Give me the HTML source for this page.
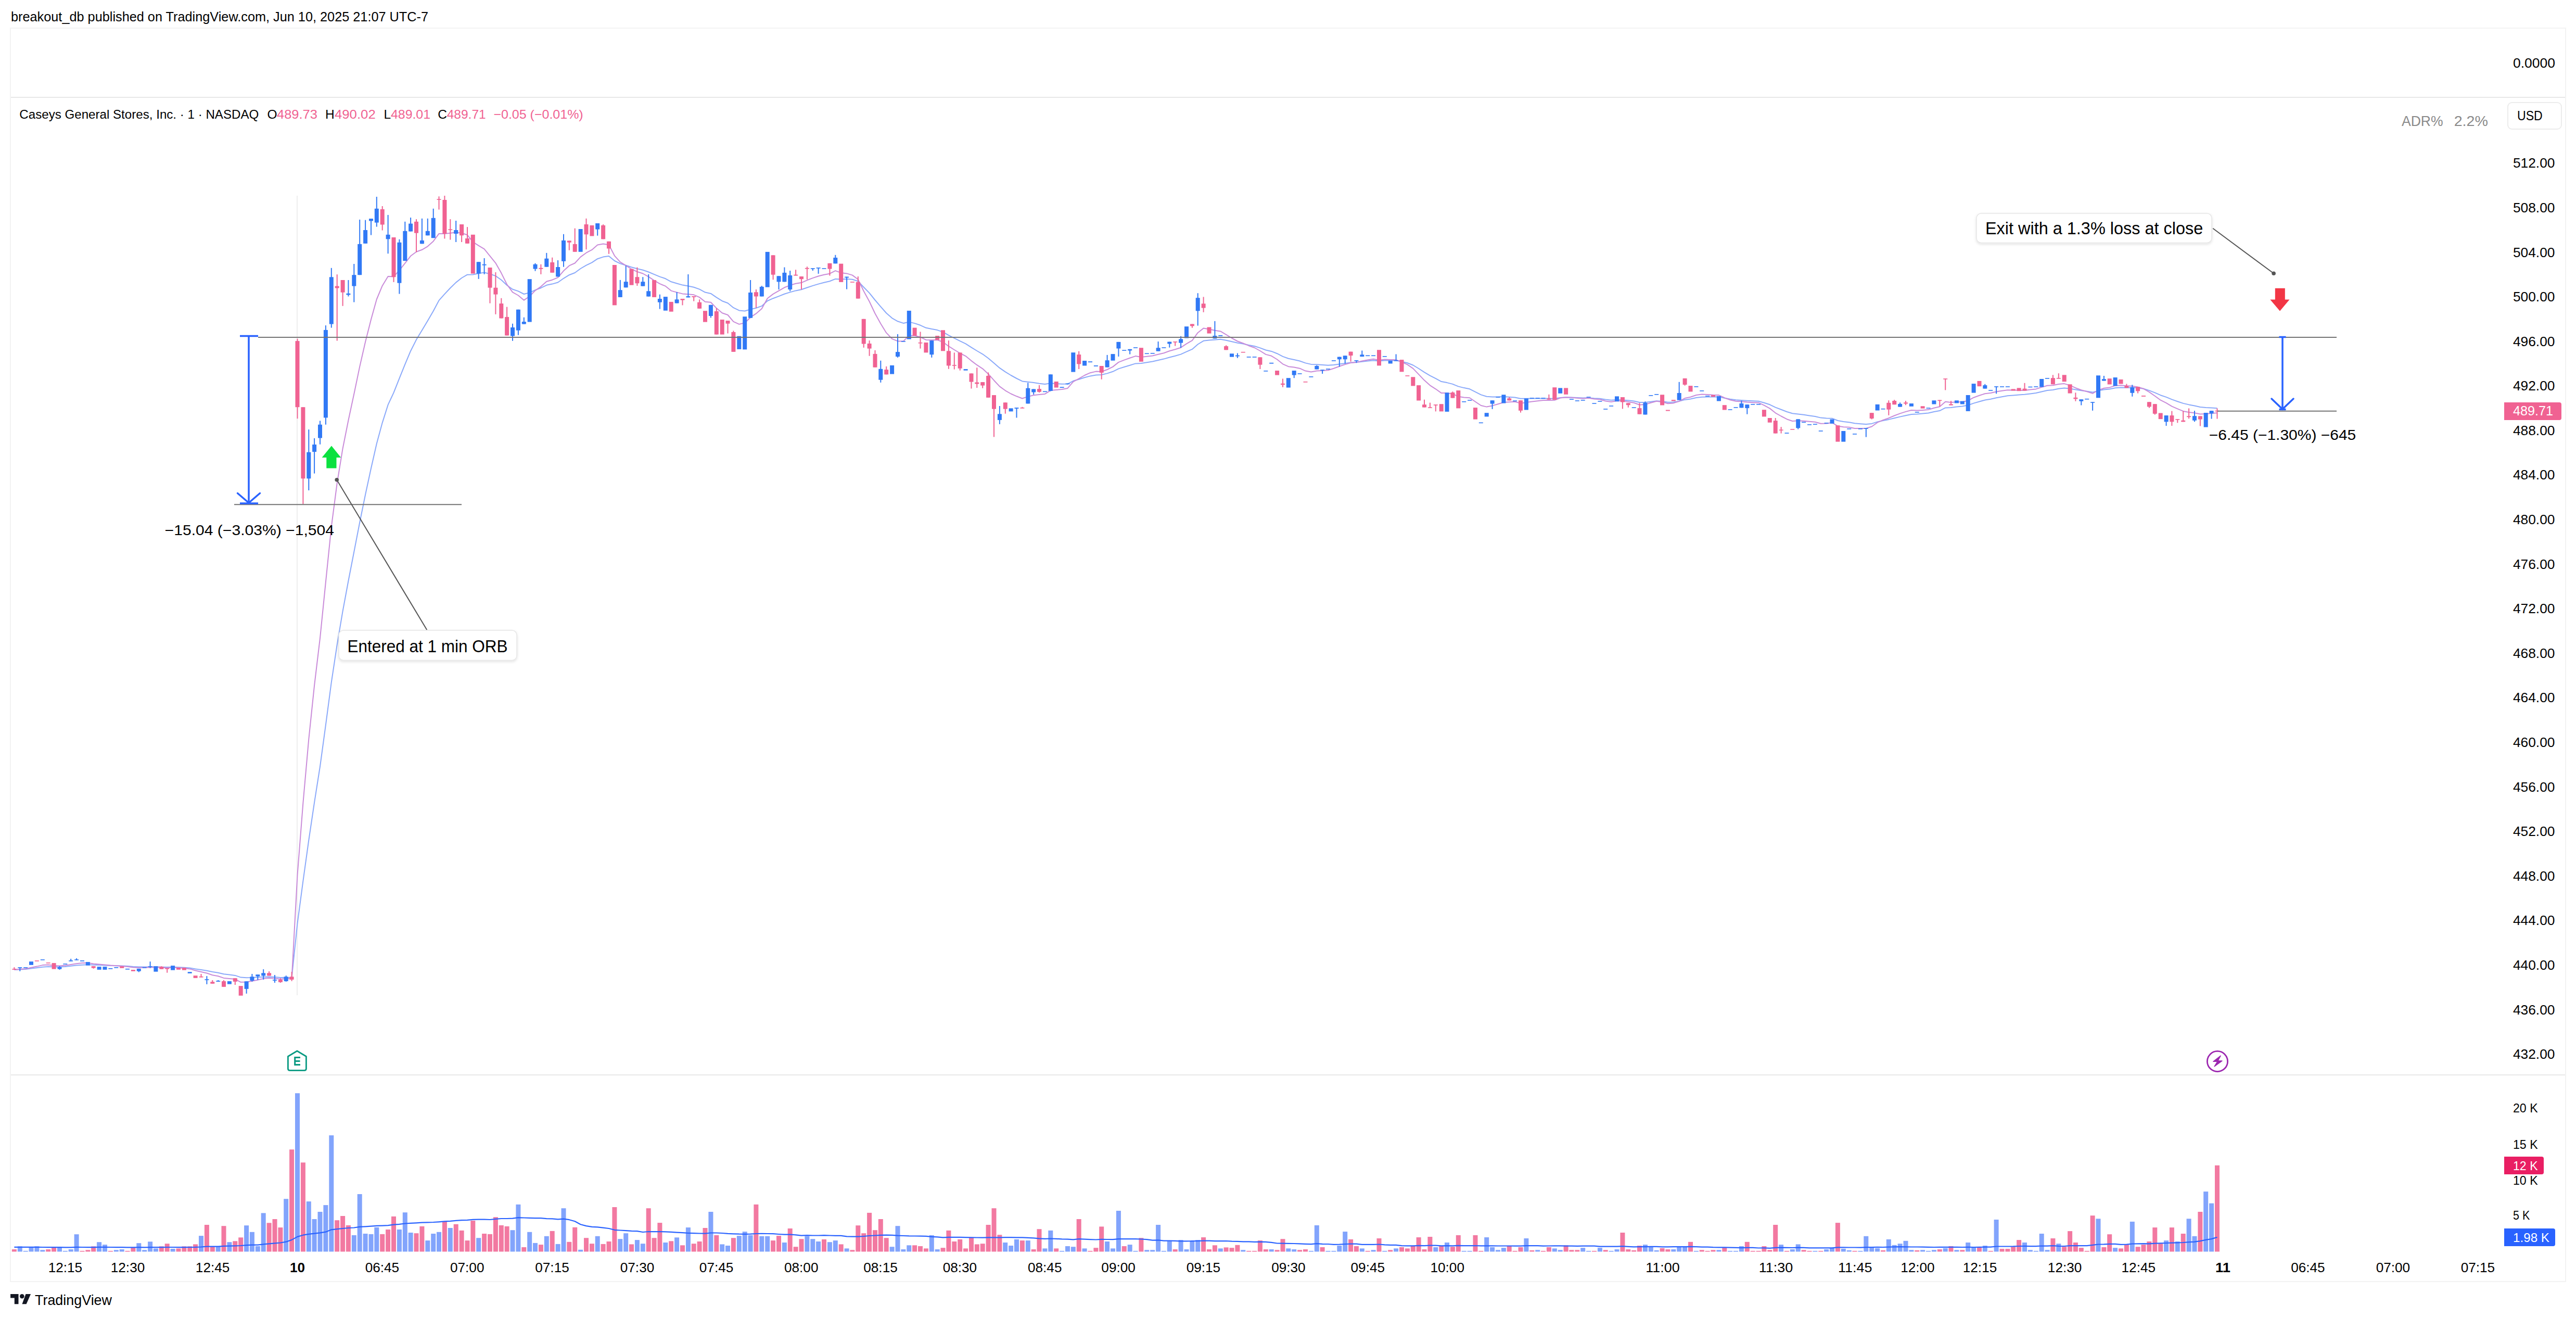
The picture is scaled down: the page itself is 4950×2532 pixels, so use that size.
<!DOCTYPE html>
<html><head><meta charset="utf-8"><style>html,body{margin:0;padding:0;background:#fff;overflow:hidden}svg{display:block}</style></head>
<body><svg width="4950" height="2532" viewBox="0 0 4950 2532" font-family='"Liberation Sans", sans-serif'>
<rect width="4950" height="2532" fill="#ffffff"/>
<text x="21.0" y="40.8" font-size="25.5" fill="#000000" text-anchor="start" font-weight="normal" textLength="802.0" lengthAdjust="spacingAndGlyphs">breakout_db published on TradingView.com, Jun 10, 2025 21:07 UTC-7</text>
<rect x="20" y="54" width="4910" height="2408" fill="none" stroke="#f3f3f3" stroke-width="2"/>
<line x1="21" y1="187" x2="4929" y2="187" stroke="#e8e8e8" stroke-width="2"/>
<line x1="21" y1="2065" x2="4929" y2="2065" stroke="#e8e8e8" stroke-width="2"/>
<line x1="571" y1="376" x2="571" y2="1912" stroke="#eeeeee" stroke-width="2"/>
<text x="4829.0" y="130.0" font-size="25.5" fill="#000000" text-anchor="start" font-weight="normal" textLength="81.0" lengthAdjust="spacingAndGlyphs">0.0000</text>
<text x="4829.0" y="2034.1" font-size="25.5" fill="#000000" text-anchor="start" font-weight="normal" textLength="80.4" lengthAdjust="spacingAndGlyphs">432.00</text>
<text x="4829.0" y="1948.5" font-size="25.5" fill="#000000" text-anchor="start" font-weight="normal" textLength="80.4" lengthAdjust="spacingAndGlyphs">436.00</text>
<text x="4829.0" y="1862.9" font-size="25.5" fill="#000000" text-anchor="start" font-weight="normal" textLength="80.4" lengthAdjust="spacingAndGlyphs">440.00</text>
<text x="4829.0" y="1777.3" font-size="25.5" fill="#000000" text-anchor="start" font-weight="normal" textLength="80.4" lengthAdjust="spacingAndGlyphs">444.00</text>
<text x="4829.0" y="1691.7" font-size="25.5" fill="#000000" text-anchor="start" font-weight="normal" textLength="80.4" lengthAdjust="spacingAndGlyphs">448.00</text>
<text x="4829.0" y="1606.1" font-size="25.5" fill="#000000" text-anchor="start" font-weight="normal" textLength="80.4" lengthAdjust="spacingAndGlyphs">452.00</text>
<text x="4829.0" y="1520.5" font-size="25.5" fill="#000000" text-anchor="start" font-weight="normal" textLength="80.4" lengthAdjust="spacingAndGlyphs">456.00</text>
<text x="4829.0" y="1434.9" font-size="25.5" fill="#000000" text-anchor="start" font-weight="normal" textLength="80.4" lengthAdjust="spacingAndGlyphs">460.00</text>
<text x="4829.0" y="1349.4" font-size="25.5" fill="#000000" text-anchor="start" font-weight="normal" textLength="80.4" lengthAdjust="spacingAndGlyphs">464.00</text>
<text x="4829.0" y="1263.8" font-size="25.5" fill="#000000" text-anchor="start" font-weight="normal" textLength="80.4" lengthAdjust="spacingAndGlyphs">468.00</text>
<text x="4829.0" y="1178.2" font-size="25.5" fill="#000000" text-anchor="start" font-weight="normal" textLength="80.4" lengthAdjust="spacingAndGlyphs">472.00</text>
<text x="4829.0" y="1092.6" font-size="25.5" fill="#000000" text-anchor="start" font-weight="normal" textLength="80.4" lengthAdjust="spacingAndGlyphs">476.00</text>
<text x="4829.0" y="1007.0" font-size="25.5" fill="#000000" text-anchor="start" font-weight="normal" textLength="80.4" lengthAdjust="spacingAndGlyphs">480.00</text>
<text x="4829.0" y="921.4" font-size="25.5" fill="#000000" text-anchor="start" font-weight="normal" textLength="80.4" lengthAdjust="spacingAndGlyphs">484.00</text>
<text x="4829.0" y="835.8" font-size="25.5" fill="#000000" text-anchor="start" font-weight="normal" textLength="80.4" lengthAdjust="spacingAndGlyphs">488.00</text>
<text x="4829.0" y="750.2" font-size="25.5" fill="#000000" text-anchor="start" font-weight="normal" textLength="80.4" lengthAdjust="spacingAndGlyphs">492.00</text>
<text x="4829.0" y="664.7" font-size="25.5" fill="#000000" text-anchor="start" font-weight="normal" textLength="80.4" lengthAdjust="spacingAndGlyphs">496.00</text>
<text x="4829.0" y="579.1" font-size="25.5" fill="#000000" text-anchor="start" font-weight="normal" textLength="80.4" lengthAdjust="spacingAndGlyphs">500.00</text>
<text x="4829.0" y="493.5" font-size="25.5" fill="#000000" text-anchor="start" font-weight="normal" textLength="80.4" lengthAdjust="spacingAndGlyphs">504.00</text>
<text x="4829.0" y="407.9" font-size="25.5" fill="#000000" text-anchor="start" font-weight="normal" textLength="80.4" lengthAdjust="spacingAndGlyphs">508.00</text>
<text x="4829.0" y="322.3" font-size="25.5" fill="#000000" text-anchor="start" font-weight="normal" textLength="80.4" lengthAdjust="spacingAndGlyphs">512.00</text>
<rect x="4819" y="197" width="103" height="51" rx="8" fill="#fff" stroke="#ececec" stroke-width="2"/>
<text x="4837.0" y="230.7" font-size="25.5" fill="#000000" text-anchor="start" font-weight="normal" textLength="48.7" lengthAdjust="spacingAndGlyphs">USD</text>
<text x="4615.0" y="242.2" font-size="28" fill="#8a8a8a" text-anchor="start" font-weight="normal" textLength="79.5" lengthAdjust="spacingAndGlyphs">ADR%</text>
<text x="4715.7" y="242.2" font-size="28" fill="#8a8a8a" text-anchor="start" font-weight="normal" textLength="65.2" lengthAdjust="spacingAndGlyphs">2.2%</text>
<text x="37.3" y="227.8" font-size="24.5" fill="#000000" text-anchor="start" font-weight="normal" textLength="460.0" lengthAdjust="spacingAndGlyphs">Caseys General Stores, Inc. · 1 · NASDAQ</text>
<text x="513.6" y="227.8" font-size="24.5" fill="#000000" text-anchor="start" font-weight="normal">O</text>
<text x="532.0" y="227.8" font-size="24.5" fill="#f06292" text-anchor="start" font-weight="normal" textLength="77.8" lengthAdjust="spacingAndGlyphs">489.73</text>
<text x="625.0" y="227.8" font-size="24.5" fill="#000000" text-anchor="start" font-weight="normal">H</text>
<text x="643.0" y="227.8" font-size="24.5" fill="#f06292" text-anchor="start" font-weight="normal" textLength="78.7" lengthAdjust="spacingAndGlyphs">490.02</text>
<text x="737.5" y="227.8" font-size="24.5" fill="#000000" text-anchor="start" font-weight="normal">L</text>
<text x="751.0" y="227.8" font-size="24.5" fill="#f06292" text-anchor="start" font-weight="normal" textLength="76.0" lengthAdjust="spacingAndGlyphs">489.01</text>
<text x="841.3" y="227.8" font-size="24.5" fill="#000000" text-anchor="start" font-weight="normal">C</text>
<text x="858.7" y="227.8" font-size="24.5" fill="#f06292" text-anchor="start" font-weight="normal" textLength="75.0" lengthAdjust="spacingAndGlyphs">489.71</text>
<text x="948.4" y="227.8" font-size="24.5" fill="#f06292" text-anchor="start" font-weight="normal" textLength="172.3" lengthAdjust="spacingAndGlyphs">−0.05 (−0.01%)</text>
<polyline points="27.4,1862.9 38.3,1862.4 49.2,1862.0 60.0,1860.6 70.9,1859.3 81.8,1857.8 92.7,1857.1 103.6,1857.5 114.5,1857.6 125.3,1857.0 136.2,1855.8 147.1,1854.6 158.0,1853.7 168.9,1853.2 179.7,1853.8 190.6,1854.1 201.5,1854.4 212.4,1854.9 223.3,1855.2 234.2,1855.6 245.0,1856.1 255.9,1857.1 266.8,1857.4 277.7,1857.5 288.6,1857.4 299.4,1857.3 310.3,1857.7 321.2,1858.1 332.1,1857.8 343.0,1858.3 353.9,1858.8 364.7,1859.6 375.6,1861.4 386.5,1863.0 397.4,1864.7 408.3,1867.1 419.2,1868.7 430.0,1871.3 440.9,1872.6 451.8,1873.9 462.7,1877.6 473.6,1878.3 484.4,1878.1 495.3,1877.5 506.2,1876.8 517.1,1876.5 528.0,1877.1 538.9,1878.0 549.7,1877.8 560.6,1878.2 571.5,1773.8 582.4,1692.4 593.3,1614.0 604.1,1541.6 615.0,1472.5 625.9,1392.6 636.8,1310.7 647.7,1238.6 658.6,1174.1 669.4,1116.0 680.3,1060.0 691.2,1003.7 702.1,950.2 713.0,899.7 723.8,852.2 734.7,812.1 745.6,777.7 756.5,754.4 767.4,726.9 778.3,699.9 789.1,674.2 800.0,652.6 810.9,634.4 821.8,616.3 832.7,597.5 843.5,577.1 854.4,564.9 865.3,553.2 876.2,542.6 887.1,534.0 898.0,527.7 908.8,527.5 919.7,525.2 930.6,523.5 941.5,526.3 952.4,530.1 963.3,537.8 974.1,548.0 985.0,555.7 995.9,559.4 1006.8,565.0 1017.7,562.2 1028.5,557.1 1039.4,553.2 1050.3,547.8 1061.2,545.6 1072.1,542.5 1083.0,534.8 1093.8,528.2 1104.7,524.0 1115.6,516.0 1126.5,509.7 1137.4,504.4 1148.2,497.2 1159.1,493.6 1170.0,492.1 1180.9,501.0 1191.8,506.4 1202.7,509.7 1213.5,513.3 1224.4,516.3 1235.3,518.7 1246.2,522.5 1257.1,527.1 1267.9,531.6 1278.8,535.3 1289.7,541.3 1300.6,544.5 1311.5,547.6 1322.4,549.6 1333.2,551.7 1344.1,555.6 1355.0,561.6 1365.9,563.9 1376.8,571.4 1387.7,578.2 1398.5,582.3 1409.4,591.2 1420.3,596.4 1431.2,597.5 1442.1,594.2 1452.9,591.8 1463.8,587.9 1474.7,578.0 1485.6,573.2 1496.5,569.1 1507.4,564.8 1518.2,561.4 1529.1,558.4 1540.0,556.3 1550.9,552.5 1561.8,548.9 1572.6,545.6 1583.5,542.7 1594.4,540.2 1605.3,535.9 1616.2,536.5 1627.1,536.0 1637.9,536.7 1648.8,540.2 1659.7,551.7 1670.6,562.9 1681.5,576.5 1692.3,589.1 1703.2,601.5 1714.1,611.1 1725.0,617.3 1735.9,620.9 1746.8,618.6 1757.6,621.1 1768.5,624.8 1779.4,629.8 1790.3,632.1 1801.2,634.1 1812.0,637.9 1822.9,644.1 1833.8,649.6 1844.7,655.2 1855.6,660.3 1866.5,667.3 1877.3,674.0 1888.2,680.3 1899.1,688.3 1910.0,697.6 1920.9,706.9 1931.8,714.4 1942.6,721.0 1953.5,727.0 1964.4,732.4 1975.3,733.7 1986.2,735.0 1997.0,736.7 2007.9,738.1 2018.8,736.3 2029.7,737.1 2040.6,737.7 2051.5,737.6 2062.3,731.8 2073.2,728.8 2084.1,725.3 2095.0,722.4 2105.9,720.4 2116.7,720.0 2127.6,717.4 2138.5,713.8 2149.4,708.4 2160.3,705.0 2171.2,701.7 2182.0,698.4 2192.9,698.1 2203.8,696.2 2214.7,694.5 2225.6,692.0 2236.4,689.6 2247.3,686.5 2258.2,683.7 2269.1,680.6 2280.0,675.6 2290.9,670.9 2301.7,661.5 2312.6,654.8 2323.5,653.5 2334.4,652.7 2345.3,651.8 2356.1,653.8 2367.0,656.2 2377.9,658.7 2388.8,660.5 2399.7,662.9 2410.6,665.0 2421.4,668.4 2432.3,672.5 2443.2,674.9 2454.1,679.2 2465.0,684.9 2475.8,688.8 2486.7,691.1 2497.6,693.5 2508.5,697.4 2519.4,699.9 2530.3,700.2 2541.1,701.1 2552.0,701.8 2562.9,700.9 2573.8,699.4 2584.7,697.9 2595.6,696.5 2606.4,696.1 2617.3,694.7 2628.2,693.5 2639.1,692.5 2650.0,693.4 2660.8,692.5 2671.7,692.6 2682.6,692.5 2693.5,694.6 2704.4,697.3 2715.3,701.5 2726.1,708.0 2737.0,715.1 2747.9,721.6 2758.8,727.1 2769.7,733.1 2780.5,735.1 2791.4,737.9 2802.3,742.4 2813.2,745.1 2824.1,747.3 2835.0,752.8 2845.8,758.4 2856.7,761.7 2867.6,762.4 2878.5,762.4 2889.4,762.0 2900.2,762.7 2911.1,763.4 2922.0,765.8 2932.9,765.7 2943.8,765.6 2954.7,765.5 2965.5,765.4 2976.4,765.6 2987.3,765.8 2998.2,763.9 3009.1,763.3 3019.9,763.6 3030.8,764.1 3041.7,764.5 3052.6,764.3 3063.5,765.2 3074.4,765.7 3085.2,767.6 3096.1,768.7 3107.0,768.0 3117.9,768.4 3128.8,769.3 3139.7,770.6 3150.5,773.0 3161.4,773.0 3172.3,771.7 3183.2,770.3 3194.1,771.1 3204.9,772.8 3215.8,772.6 3226.7,770.9 3237.6,767.9 3248.5,766.4 3259.4,764.1 3270.2,762.8 3281.1,762.5 3292.0,762.5 3302.9,762.3 3313.8,764.7 3324.6,766.8 3335.5,768.2 3346.4,768.9 3357.3,769.7 3368.2,770.3 3379.1,770.8 3389.9,773.7 3400.8,777.3 3411.7,782.6 3422.6,786.8 3433.5,791.0 3444.3,794.3 3455.2,795.4 3466.1,796.8 3477.0,798.5 3487.9,800.0 3498.8,802.6 3509.6,803.5 3520.5,803.7 3531.4,808.0 3542.3,809.9 3553.2,811.2 3564.0,813.2 3574.9,814.2 3585.8,815.0 3596.7,813.9 3607.6,810.4 3618.5,808.0 3629.3,805.9 3640.2,803.2 3651.1,800.6 3662.0,798.2 3672.9,796.0 3683.8,795.5 3694.6,794.5 3705.5,793.4 3716.4,791.1 3727.3,789.1 3738.2,783.4 3749.0,782.9 3759.9,781.6 3770.8,780.6 3781.7,778.5 3792.6,774.6 3803.5,771.5 3814.3,768.5 3825.2,766.7 3836.1,764.3 3847.0,762.2 3857.9,760.3 3868.7,759.4 3879.6,758.6 3890.5,757.8 3901.4,756.4 3912.3,755.0 3923.2,752.5 3934.0,750.0 3944.9,748.9 3955.8,746.8 3966.7,745.5 3977.6,746.5 3988.4,748.4 3999.3,750.2 4010.2,751.7 4021.1,753.6 4032.0,750.6 4042.9,748.4 4053.7,747.5 4064.6,745.3 4075.5,744.6 4086.4,744.7 4097.3,744.6 4108.1,745.2 4119.0,746.8 4129.9,750.1 4140.8,754.4 4151.7,759.2 4162.6,762.9 4173.4,767.4 4184.3,771.2 4195.2,774.9 4206.1,777.4 4217.0,779.5 4227.9,782.0 4238.7,783.0 4249.6,783.6 4260.5,784.2" fill="none" stroke="#8aa9fa" stroke-width="2" stroke-linejoin="round"/>
<polyline points="27.4,1862.9 38.3,1862.0 49.2,1861.3 60.0,1858.8 70.9,1856.6 81.8,1854.1 92.7,1853.5 103.6,1855.0 114.5,1855.5 125.3,1854.8 136.2,1853.0 147.1,1851.2 158.0,1850.1 168.9,1849.7 179.7,1851.5 190.6,1852.5 201.5,1853.4 212.4,1854.6 223.3,1855.2 234.2,1856.0 245.0,1856.9 255.9,1858.5 266.8,1859.0 277.7,1858.8 288.6,1858.4 299.4,1858.0 310.3,1858.7 321.2,1859.2 332.1,1858.5 343.0,1859.3 353.9,1860.1 364.7,1861.4 375.6,1864.5 386.5,1866.9 397.4,1869.5 408.3,1873.2 419.2,1875.2 430.0,1878.9 440.9,1880.0 451.8,1881.1 462.7,1886.8 473.6,1886.5 484.4,1884.7 495.3,1882.4 506.2,1880.0 517.1,1879.0 528.0,1879.6 538.9,1880.9 549.7,1880.1 560.6,1880.4 571.5,1680.7 582.4,1542.3 593.3,1419.8 604.1,1316.9 615.0,1225.8 625.9,1118.2 636.8,1011.7 647.7,928.4 658.6,861.7 669.4,807.5 680.3,756.7 691.2,704.4 702.1,656.7 713.0,613.7 723.8,575.0 734.7,548.9 745.6,531.1 756.5,531.3 767.4,519.4 778.3,505.6 789.1,491.8 800.0,483.8 810.9,479.8 821.8,473.3 832.7,463.4 843.5,448.9 854.4,448.9 865.3,447.7 876.2,446.6 887.1,447.7 898.0,451.3 908.8,464.8 919.7,471.8 930.6,478.4 941.5,491.9 952.4,505.3 963.3,524.6 974.1,546.4 985.0,561.4 995.9,567.5 1006.8,576.7 1017.7,569.3 1028.5,558.1 1039.4,550.6 1050.3,540.8 1061.2,537.7 1072.1,533.2 1083.0,520.3 1093.8,510.4 1104.7,505.5 1115.6,493.6 1126.5,485.7 1137.4,479.9 1148.2,470.6 1159.1,468.6 1170.0,470.2 1180.9,491.3 1191.8,503.3 1202.7,510.2 1213.5,517.0 1224.4,522.0 1235.3,525.5 1246.2,531.6 1257.1,538.8 1267.9,545.2 1278.8,549.7 1289.7,558.6 1300.6,561.6 1311.5,564.4 1322.4,565.2 1333.2,566.3 1344.1,571.1 1355.0,579.7 1365.9,580.8 1376.8,592.1 1387.7,601.2 1398.5,605.0 1409.4,617.9 1420.3,622.9 1431.2,620.2 1442.1,609.7 1452.9,602.4 1463.8,593.0 1474.7,573.2 1485.6,564.9 1496.5,558.6 1507.4,552.3 1518.2,548.1 1529.1,544.7 1540.0,543.1 1550.9,538.3 1561.8,534.1 1572.6,530.5 1583.5,527.7 1594.4,525.7 1605.3,520.1 1616.2,524.1 1627.1,525.4 1637.9,528.6 1648.8,536.8 1659.7,559.3 1670.6,579.3 1681.5,602.3 1692.3,621.7 1703.2,639.4 1714.1,650.8 1725.0,655.4 1735.9,655.4 1746.8,644.8 1757.6,644.8 1768.5,647.5 1779.4,652.9 1790.3,653.2 1801.2,653.1 1812.0,657.0 1822.9,665.2 1833.8,672.0 1844.7,678.5 1855.6,684.1 1866.5,693.1 1877.3,701.2 1888.2,708.3 1899.1,718.4 1910.0,730.7 1920.9,742.4 1931.8,750.3 1942.6,756.5 1953.5,761.3 1964.4,765.5 1975.3,761.9 1986.2,759.3 1997.0,758.1 2007.9,756.9 2018.8,750.1 2029.7,749.1 2040.6,748.0 2051.5,745.9 2062.3,733.4 2073.2,727.3 2084.1,721.0 2095.0,716.2 2105.9,713.6 2116.7,714.0 2127.6,710.0 2138.5,704.6 2149.4,695.9 2160.3,691.6 2171.2,687.8 2182.0,684.1 2192.9,686.0 2203.8,684.7 2214.7,683.5 2225.6,680.7 2236.4,678.2 2247.3,674.3 2258.2,671.3 2269.1,667.7 2280.0,660.3 2290.9,654.1 2301.7,639.2 2312.6,630.6 2323.5,632.4 2334.4,634.7 2345.3,636.4 2356.1,642.9 2367.0,649.5 2377.9,655.5 2388.8,659.5 2399.7,664.2 2410.6,668.0 2421.4,674.0 2432.3,680.9 2443.2,683.8 2454.1,690.5 2465.0,699.3 2475.8,704.2 2486.7,705.6 2497.6,707.7 2508.5,712.6 2519.4,714.5 2530.3,712.4 2541.1,712.0 2552.0,711.3 2562.9,707.8 2573.8,703.8 2584.7,700.1 2595.6,697.0 2606.4,696.1 2617.3,693.4 2628.2,691.4 2639.1,689.8 2650.0,692.1 2660.8,690.6 2671.7,691.0 2682.6,691.2 2693.5,695.4 2704.4,700.4 2715.3,707.9 2726.1,719.1 2737.0,730.6 2747.9,740.3 2758.8,747.3 2769.7,755.1 2780.5,755.0 2791.4,756.7 2802.3,761.8 2813.2,763.4 2824.1,764.3 2835.0,771.8 2845.8,779.0 2856.7,781.6 2867.6,779.4 2878.5,776.2 2889.4,773.0 2900.2,772.3 2911.1,771.8 2922.0,774.9 2932.9,773.1 2943.8,771.5 2954.7,770.2 2965.5,769.1 2976.4,768.9 2987.3,768.7 2998.2,764.5 3009.1,763.2 3019.9,763.8 3030.8,764.8 3041.7,765.4 3052.6,764.8 3063.5,766.5 3074.4,767.2 3085.2,770.5 3096.1,772.1 3107.0,770.1 3117.9,770.6 3128.8,771.9 3139.7,773.8 3150.5,777.8 3161.4,777.1 3172.3,773.8 3183.2,770.8 3194.1,772.2 3204.9,775.3 3215.8,774.4 3226.7,770.9 3237.6,765.1 3248.5,762.8 3259.4,759.0 3270.2,757.4 3281.1,757.9 3292.0,758.7 3302.9,759.1 3313.8,764.2 3324.6,768.2 3335.5,770.8 3346.4,771.5 3357.3,772.6 3368.2,773.2 3379.1,773.7 3389.9,778.6 3400.8,784.6 3411.7,793.3 3422.6,799.5 3433.5,805.2 3444.3,809.0 3455.2,808.3 3466.1,808.7 3477.0,809.8 3487.9,810.7 3498.8,813.7 3509.6,813.4 3520.5,811.9 3531.4,818.6 3542.3,820.3 3553.2,820.8 3564.0,823.0 3574.9,823.1 3585.8,822.9 3596.7,819.5 3607.6,811.7 3618.5,806.9 3629.3,803.2 3640.2,798.5 3651.1,794.4 3662.0,790.9 3672.9,788.0 3683.8,788.6 3694.6,787.9 3705.5,787.1 3716.4,783.8 3727.3,781.3 3738.2,771.8 3749.0,773.0 3759.9,772.3 3770.8,772.0 3781.7,769.7 3792.6,763.7 3803.5,759.8 3814.3,756.2 3825.2,755.0 3836.1,752.6 3847.0,750.7 3857.9,749.2 3868.7,749.4 3879.6,749.7 3890.5,749.9 3901.4,748.6 3912.3,747.4 3923.2,743.9 3934.0,740.7 3944.9,740.2 3955.8,737.9 3966.7,737.1 3977.6,740.4 3988.4,745.2 3999.3,749.2 4010.2,752.2 4021.1,755.9 4032.0,749.6 4042.9,745.7 4053.7,744.4 4064.6,740.9 4075.5,740.3 4086.4,741.2 4097.3,741.7 4108.1,743.4 4119.0,746.8 4129.9,753.1 4140.8,760.7 4151.7,768.7 4162.6,774.1 4173.4,780.7 4184.3,785.4 4195.2,789.9 4206.1,792.0 4217.0,793.3 4227.9,795.5 4238.7,795.1 4249.6,794.0 4260.5,793.3" fill="none" stroke="#c98bd9" stroke-width="2" stroke-linejoin="round"/>
<rect x="26.4" y="1858.2" width="2" height="4.7" fill="#f06292"/>
<rect x="23.4" y="1861.1" width="8" height="1.7" fill="#f06292"/>
<rect x="37.3" y="1858.2" width="2" height="7.6" fill="#3179f5"/>
<rect x="34.3" y="1858.2" width="8" height="1.7" fill="#3179f5"/>
<rect x="45.2" y="1858.2" width="8" height="1.7" fill="#3179f5"/>
<rect x="56.0" y="1847.2" width="8" height="6.6" fill="#3179f5"/>
<rect x="66.9" y="1845.2" width="8" height="1.6" fill="#f06292"/>
<rect x="77.8" y="1843.1" width="8" height="1.6" fill="#3179f5"/>
<rect x="88.7" y="1849.1" width="8" height="1.6" fill="#f06292"/>
<rect x="99.6" y="1850.1" width="8" height="11.6" fill="#f06292"/>
<rect x="113.5" y="1855.9" width="2" height="7.0" fill="#3179f5"/>
<rect x="110.5" y="1857.9" width="8" height="3.8" fill="#3179f5"/>
<rect x="121.3" y="1851.2" width="8" height="1.6" fill="#3179f5"/>
<rect x="135.2" y="1841.9" width="2" height="4.9" fill="#3179f5"/>
<rect x="132.2" y="1845.1" width="8" height="1.7" fill="#3179f5"/>
<rect x="146.1" y="1841.0" width="2" height="3.7" fill="#3179f5"/>
<rect x="143.1" y="1843.1" width="8" height="1.6" fill="#3179f5"/>
<rect x="154.0" y="1845.1" width="8" height="1.7" fill="#3179f5"/>
<rect x="164.9" y="1848.1" width="8" height="6.6" fill="#3179f5"/>
<rect x="178.7" y="1856.1" width="2" height="4.7" fill="#f06292"/>
<rect x="175.7" y="1856.1" width="8" height="3.5" fill="#f06292"/>
<rect x="186.6" y="1857.1" width="8" height="5.8" fill="#3179f5"/>
<rect x="197.5" y="1857.1" width="8" height="5.8" fill="#3179f5"/>
<rect x="208.4" y="1860.0" width="8" height="1.7" fill="#3179f5"/>
<rect x="219.3" y="1858.0" width="8" height="1.7" fill="#3179f5"/>
<rect x="230.2" y="1856.5" width="8" height="3.3" fill="#f06292"/>
<rect x="241.0" y="1860.9" width="8" height="1.7" fill="#3179f5"/>
<rect x="251.9" y="1863.1" width="8" height="2.7" fill="#f06292"/>
<rect x="265.8" y="1860.9" width="2" height="6.6" fill="#3179f5"/>
<rect x="262.8" y="1860.9" width="8" height="4.9" fill="#3179f5"/>
<rect x="273.7" y="1858.2" width="8" height="1.6" fill="#3179f5"/>
<rect x="287.6" y="1847.2" width="2" height="12.5" fill="#3179f5"/>
<rect x="284.6" y="1856.2" width="8" height="1.6" fill="#3179f5"/>
<rect x="295.4" y="1856.2" width="8" height="10.5" fill="#3179f5"/>
<rect x="309.3" y="1856.2" width="2" height="5.5" fill="#f06292"/>
<rect x="306.3" y="1857.1" width="8" height="4.7" fill="#f06292"/>
<rect x="320.2" y="1860.0" width="2" height="8.7" fill="#f06292"/>
<rect x="317.2" y="1860.0" width="8" height="1.7" fill="#f06292"/>
<rect x="328.1" y="1855.1" width="8" height="8.6" fill="#3179f5"/>
<rect x="339.0" y="1859.0" width="8" height="3.8" fill="#f06292"/>
<rect x="349.9" y="1859.0" width="8" height="4.7" fill="#f06292"/>
<rect x="360.7" y="1867.2" width="8" height="2.7" fill="#3179f5"/>
<rect x="371.6" y="1874.2" width="8" height="4.7" fill="#f06292"/>
<rect x="385.5" y="1871.0" width="2" height="6.6" fill="#f06292"/>
<rect x="382.5" y="1875.9" width="8" height="1.7" fill="#f06292"/>
<rect x="396.4" y="1875.1" width="2" height="15.7" fill="#3179f5"/>
<rect x="393.4" y="1881.2" width="8" height="1.7" fill="#3179f5"/>
<rect x="407.3" y="1883.0" width="2" height="6.6" fill="#f06292"/>
<rect x="404.3" y="1886.2" width="8" height="3.5" fill="#f06292"/>
<rect x="418.2" y="1883.0" width="2" height="2.8" fill="#3179f5"/>
<rect x="415.2" y="1884.1" width="8" height="1.7" fill="#3179f5"/>
<rect x="429.0" y="1883.0" width="2" height="12.8" fill="#f06292"/>
<rect x="426.0" y="1885.0" width="8" height="10.8" fill="#f06292"/>
<rect x="436.9" y="1885.0" width="8" height="5.6" fill="#3179f5"/>
<rect x="450.8" y="1879.2" width="2" height="12.8" fill="#f06292"/>
<rect x="447.8" y="1879.2" width="8" height="6.6" fill="#f06292"/>
<rect x="458.7" y="1894.1" width="8" height="18.6" fill="#f06292"/>
<rect x="472.6" y="1885.2" width="2" height="23.6" fill="#3179f5"/>
<rect x="469.6" y="1885.2" width="8" height="14.6" fill="#3179f5"/>
<rect x="483.4" y="1871.0" width="2" height="14.8" fill="#3179f5"/>
<rect x="480.4" y="1876.3" width="8" height="7.6" fill="#3179f5"/>
<rect x="494.3" y="1872.2" width="2" height="10.5" fill="#3179f5"/>
<rect x="491.3" y="1872.2" width="8" height="3.5" fill="#3179f5"/>
<rect x="505.2" y="1862.1" width="2" height="19.8" fill="#3179f5"/>
<rect x="502.2" y="1869.3" width="8" height="5.2" fill="#3179f5"/>
<rect x="516.1" y="1866.0" width="2" height="8.5" fill="#f06292"/>
<rect x="513.1" y="1869.3" width="8" height="5.2" fill="#f06292"/>
<rect x="527.0" y="1873.0" width="2" height="14.9" fill="#3179f5"/>
<rect x="524.0" y="1882.1" width="8" height="1.7" fill="#3179f5"/>
<rect x="537.9" y="1879.2" width="2" height="8.7" fill="#f06292"/>
<rect x="534.9" y="1882.1" width="8" height="4.7" fill="#f06292"/>
<rect x="548.7" y="1874.2" width="2" height="11.6" fill="#3179f5"/>
<rect x="545.7" y="1876.3" width="8" height="8.7" fill="#3179f5"/>
<rect x="559.6" y="1867.0" width="2" height="17.8" fill="#f06292"/>
<rect x="556.6" y="1876.3" width="8" height="5.6" fill="#f06292"/>
<rect x="570.5" y="650.6" width="2" height="153.6" fill="#f06292"/>
<rect x="567.5" y="655.1" width="8" height="127.1" fill="#f06292"/>
<rect x="581.4" y="782.2" width="2" height="186.0" fill="#f06292"/>
<rect x="578.4" y="782.2" width="8" height="137.1" fill="#f06292"/>
<rect x="592.3" y="825.1" width="2" height="116.9" fill="#3179f5"/>
<rect x="589.3" y="868.7" width="8" height="50.6" fill="#3179f5"/>
<rect x="603.1" y="841.9" width="2" height="67.7" fill="#3179f5"/>
<rect x="600.1" y="854.0" width="8" height="14.0" fill="#3179f5"/>
<rect x="614.0" y="808.4" width="2" height="45.3" fill="#3179f5"/>
<rect x="611.0" y="815.7" width="8" height="25.8" fill="#3179f5"/>
<rect x="624.9" y="625.1" width="2" height="190.6" fill="#3179f5"/>
<rect x="621.9" y="633.9" width="8" height="168.5" fill="#3179f5"/>
<rect x="635.8" y="514.8" width="2" height="114.8" fill="#3179f5"/>
<rect x="632.8" y="532.3" width="8" height="90.3" fill="#3179f5"/>
<rect x="646.7" y="527.2" width="2" height="127.4" fill="#f06292"/>
<rect x="643.7" y="549.6" width="8" height="3.9" fill="#f06292"/>
<rect x="657.6" y="538.0" width="2" height="49.8" fill="#f06292"/>
<rect x="654.6" y="538.0" width="8" height="23.7" fill="#f06292"/>
<rect x="668.4" y="538.0" width="2" height="31.5" fill="#3179f5"/>
<rect x="665.4" y="563.8" width="8" height="2.6" fill="#3179f5"/>
<rect x="679.3" y="507.0" width="2" height="73.5" fill="#3179f5"/>
<rect x="676.3" y="528.2" width="8" height="21.4" fill="#3179f5"/>
<rect x="690.2" y="421.9" width="2" height="106.3" fill="#3179f5"/>
<rect x="687.2" y="468.9" width="8" height="59.3" fill="#3179f5"/>
<rect x="701.1" y="422.7" width="2" height="45.1" fill="#3179f5"/>
<rect x="698.1" y="442.0" width="8" height="25.8" fill="#3179f5"/>
<rect x="712.0" y="420.1" width="2" height="31.5" fill="#3179f5"/>
<rect x="709.0" y="420.1" width="8" height="4.4" fill="#3179f5"/>
<rect x="722.8" y="378.0" width="2" height="57.6" fill="#3179f5"/>
<rect x="719.8" y="400.8" width="8" height="26.8" fill="#3179f5"/>
<rect x="733.7" y="396.0" width="2" height="46.5" fill="#f06292"/>
<rect x="730.7" y="402.0" width="8" height="29.5" fill="#f06292"/>
<rect x="744.6" y="412.9" width="2" height="74.3" fill="#3179f5"/>
<rect x="741.6" y="450.8" width="8" height="8.5" fill="#3179f5"/>
<rect x="755.5" y="456.0" width="2" height="85.9" fill="#f06292"/>
<rect x="752.5" y="456.0" width="8" height="76.3" fill="#f06292"/>
<rect x="766.4" y="459.8" width="2" height="104.8" fill="#3179f5"/>
<rect x="763.4" y="465.8" width="8" height="77.9" fill="#3179f5"/>
<rect x="777.3" y="425.8" width="2" height="75.3" fill="#3179f5"/>
<rect x="774.3" y="443.8" width="8" height="57.3" fill="#3179f5"/>
<rect x="788.1" y="418.0" width="2" height="26.6" fill="#3179f5"/>
<rect x="785.1" y="429.6" width="8" height="15.0" fill="#3179f5"/>
<rect x="799.0" y="421.1" width="2" height="63.2" fill="#f06292"/>
<rect x="796.0" y="425.8" width="8" height="21.9" fill="#f06292"/>
<rect x="809.9" y="419.8" width="2" height="48.5" fill="#3179f5"/>
<rect x="806.9" y="461.9" width="8" height="6.4" fill="#3179f5"/>
<rect x="820.8" y="419.8" width="2" height="32.5" fill="#3179f5"/>
<rect x="817.8" y="443.8" width="8" height="8.5" fill="#3179f5"/>
<rect x="831.7" y="400.8" width="2" height="56.4" fill="#3179f5"/>
<rect x="828.7" y="418.8" width="8" height="38.4" fill="#3179f5"/>
<rect x="842.5" y="377.3" width="2" height="25.3" fill="#f06292"/>
<rect x="839.5" y="382.4" width="8" height="1.6" fill="#f06292"/>
<rect x="853.4" y="376.0" width="2" height="82.5" fill="#f06292"/>
<rect x="850.4" y="384.0" width="8" height="65.0" fill="#f06292"/>
<rect x="864.3" y="421.1" width="2" height="39.5" fill="#f06292"/>
<rect x="861.3" y="440.4" width="8" height="1.6" fill="#f06292"/>
<rect x="875.2" y="424.0" width="2" height="41.0" fill="#3179f5"/>
<rect x="872.2" y="442.0" width="8" height="7.0" fill="#3179f5"/>
<rect x="886.1" y="431.0" width="2" height="34.0" fill="#f06292"/>
<rect x="883.1" y="431.0" width="8" height="21.3" fill="#f06292"/>
<rect x="897.0" y="436.1" width="2" height="31.7" fill="#f06292"/>
<rect x="894.0" y="458.0" width="8" height="9.8" fill="#f06292"/>
<rect x="904.8" y="450.8" width="8" height="74.8" fill="#f06292"/>
<rect x="918.7" y="503.2" width="2" height="32.7" fill="#3179f5"/>
<rect x="915.7" y="503.2" width="8" height="22.4" fill="#3179f5"/>
<rect x="929.6" y="496.0" width="2" height="30.9" fill="#3179f5"/>
<rect x="926.6" y="507.8" width="8" height="1.8" fill="#3179f5"/>
<rect x="940.5" y="514.0" width="2" height="68.6" fill="#f06292"/>
<rect x="937.5" y="514.0" width="8" height="38.7" fill="#f06292"/>
<rect x="951.4" y="523.0" width="2" height="80.8" fill="#f06292"/>
<rect x="948.4" y="552.7" width="8" height="12.9" fill="#f06292"/>
<rect x="962.3" y="572.8" width="2" height="38.7" fill="#f06292"/>
<rect x="959.3" y="583.1" width="8" height="28.4" fill="#f06292"/>
<rect x="973.1" y="589.6" width="2" height="54.9" fill="#f06292"/>
<rect x="970.1" y="608.9" width="8" height="35.6" fill="#f06292"/>
<rect x="984.0" y="621.8" width="2" height="33.0" fill="#3179f5"/>
<rect x="981.0" y="629.0" width="8" height="16.5" fill="#3179f5"/>
<rect x="994.9" y="594.7" width="2" height="49.0" fill="#3179f5"/>
<rect x="991.9" y="594.7" width="8" height="40.0" fill="#3179f5"/>
<rect x="1005.8" y="609.7" width="2" height="12.9" fill="#3179f5"/>
<rect x="1002.8" y="618.0" width="8" height="4.6" fill="#3179f5"/>
<rect x="1013.7" y="536.2" width="8" height="82.3" fill="#3179f5"/>
<rect x="1027.5" y="505.7" width="2" height="15.0" fill="#3179f5"/>
<rect x="1024.5" y="507.8" width="8" height="8.8" fill="#3179f5"/>
<rect x="1038.4" y="507.8" width="2" height="19.1" fill="#f06292"/>
<rect x="1035.4" y="514.8" width="8" height="2.0" fill="#f06292"/>
<rect x="1049.3" y="485.9" width="2" height="26.8" fill="#3179f5"/>
<rect x="1046.3" y="496.7" width="8" height="16.0" fill="#3179f5"/>
<rect x="1060.2" y="494.7" width="2" height="29.1" fill="#f06292"/>
<rect x="1057.2" y="504.0" width="8" height="19.8" fill="#f06292"/>
<rect x="1071.1" y="500.0" width="2" height="31.5" fill="#3179f5"/>
<rect x="1068.1" y="513.0" width="8" height="18.5" fill="#3179f5"/>
<rect x="1082.0" y="449.8" width="2" height="62.9" fill="#3179f5"/>
<rect x="1079.0" y="461.9" width="8" height="40.0" fill="#3179f5"/>
<rect x="1092.8" y="462.4" width="2" height="18.3" fill="#f06292"/>
<rect x="1089.8" y="462.4" width="8" height="3.4" fill="#f06292"/>
<rect x="1103.7" y="438.7" width="2" height="45.1" fill="#f06292"/>
<rect x="1100.7" y="468.9" width="8" height="14.9" fill="#f06292"/>
<rect x="1111.6" y="440.0" width="8" height="43.8" fill="#3179f5"/>
<rect x="1125.5" y="419.8" width="2" height="59.4" fill="#f06292"/>
<rect x="1122.5" y="431.0" width="8" height="19.3" fill="#f06292"/>
<rect x="1133.4" y="432.9" width="8" height="20.6" fill="#f06292"/>
<rect x="1147.2" y="429.0" width="2" height="23.7" fill="#3179f5"/>
<rect x="1144.2" y="429.0" width="8" height="11.6" fill="#3179f5"/>
<rect x="1158.1" y="431.1" width="2" height="28.3" fill="#f06292"/>
<rect x="1155.1" y="432.9" width="8" height="26.5" fill="#f06292"/>
<rect x="1169.0" y="463.8" width="2" height="24.0" fill="#f06292"/>
<rect x="1166.0" y="463.8" width="8" height="13.7" fill="#f06292"/>
<rect x="1176.9" y="509.0" width="8" height="77.4" fill="#f06292"/>
<rect x="1190.8" y="537.9" width="2" height="33.0" fill="#3179f5"/>
<rect x="1187.8" y="557.2" width="8" height="13.7" fill="#3179f5"/>
<rect x="1201.7" y="510.3" width="2" height="42.0" fill="#3179f5"/>
<rect x="1198.7" y="541.2" width="8" height="11.1" fill="#3179f5"/>
<rect x="1209.5" y="516.7" width="8" height="31.0" fill="#f06292"/>
<rect x="1223.4" y="513.6" width="2" height="35.4" fill="#f06292"/>
<rect x="1220.4" y="532.2" width="8" height="12.1" fill="#f06292"/>
<rect x="1234.3" y="532.2" width="2" height="17.5" fill="#3179f5"/>
<rect x="1231.3" y="541.2" width="8" height="8.5" fill="#3179f5"/>
<rect x="1245.2" y="527.0" width="2" height="42.6" fill="#3179f5"/>
<rect x="1242.2" y="559.3" width="8" height="10.3" fill="#3179f5"/>
<rect x="1253.1" y="538.1" width="8" height="32.8" fill="#f06292"/>
<rect x="1266.9" y="565.7" width="2" height="27.9" fill="#3179f5"/>
<rect x="1263.9" y="574.0" width="8" height="6.7" fill="#3179f5"/>
<rect x="1274.8" y="570.1" width="8" height="26.6" fill="#3179f5"/>
<rect x="1285.7" y="579.9" width="8" height="18.8" fill="#f06292"/>
<rect x="1299.6" y="561.1" width="2" height="21.4" fill="#3179f5"/>
<rect x="1296.6" y="575.3" width="8" height="7.2" fill="#3179f5"/>
<rect x="1310.5" y="574.0" width="2" height="12.4" fill="#f06292"/>
<rect x="1307.5" y="574.0" width="8" height="2.6" fill="#f06292"/>
<rect x="1321.4" y="527.0" width="2" height="44.4" fill="#3179f5"/>
<rect x="1318.4" y="569.1" width="8" height="2.3" fill="#3179f5"/>
<rect x="1332.2" y="569.1" width="2" height="9.5" fill="#f06292"/>
<rect x="1329.2" y="569.1" width="8" height="1.8" fill="#f06292"/>
<rect x="1343.1" y="575.3" width="2" height="17.5" fill="#f06292"/>
<rect x="1340.1" y="580.7" width="8" height="12.1" fill="#f06292"/>
<rect x="1351.0" y="597.2" width="8" height="21.4" fill="#f06292"/>
<rect x="1364.9" y="585.8" width="2" height="24.6" fill="#3179f5"/>
<rect x="1361.9" y="585.8" width="8" height="21.2" fill="#3179f5"/>
<rect x="1375.8" y="592.0" width="2" height="50.6" fill="#f06292"/>
<rect x="1372.8" y="598.0" width="8" height="44.6" fill="#f06292"/>
<rect x="1383.7" y="614.0" width="8" height="28.6" fill="#f06292"/>
<rect x="1397.5" y="616.0" width="2" height="24.5" fill="#f06292"/>
<rect x="1394.5" y="616.0" width="8" height="5.7" fill="#f06292"/>
<rect x="1408.4" y="635.4" width="2" height="40.5" fill="#f06292"/>
<rect x="1405.4" y="638.0" width="8" height="37.9" fill="#f06292"/>
<rect x="1416.3" y="645.7" width="8" height="25.2" fill="#3179f5"/>
<rect x="1427.2" y="608.2" width="8" height="63.2" fill="#3179f5"/>
<rect x="1441.1" y="538.0" width="2" height="72.8" fill="#3179f5"/>
<rect x="1438.1" y="562.0" width="8" height="48.8" fill="#3179f5"/>
<rect x="1451.9" y="556.1" width="2" height="35.3" fill="#f06292"/>
<rect x="1448.9" y="561.3" width="8" height="8.2" fill="#f06292"/>
<rect x="1462.8" y="549.1" width="2" height="20.4" fill="#3179f5"/>
<rect x="1459.8" y="550.9" width="8" height="18.6" fill="#3179f5"/>
<rect x="1470.7" y="483.9" width="8" height="67.8" fill="#3179f5"/>
<rect x="1484.6" y="490.3" width="2" height="47.0" fill="#f06292"/>
<rect x="1481.6" y="490.3" width="8" height="37.4" fill="#f06292"/>
<rect x="1495.5" y="530.3" width="2" height="25.8" fill="#3179f5"/>
<rect x="1492.5" y="530.3" width="8" height="11.1" fill="#3179f5"/>
<rect x="1506.4" y="513.5" width="2" height="27.9" fill="#3179f5"/>
<rect x="1503.4" y="523.9" width="8" height="17.5" fill="#3179f5"/>
<rect x="1517.2" y="520.0" width="2" height="39.4" fill="#3179f5"/>
<rect x="1514.2" y="529.0" width="8" height="27.1" fill="#3179f5"/>
<rect x="1528.1" y="518.2" width="2" height="11.3" fill="#f06292"/>
<rect x="1525.1" y="527.7" width="8" height="1.8" fill="#f06292"/>
<rect x="1539.0" y="531.1" width="2" height="25.0" fill="#f06292"/>
<rect x="1536.0" y="531.1" width="8" height="5.1" fill="#f06292"/>
<rect x="1549.9" y="512.2" width="2" height="24.6" fill="#f06292"/>
<rect x="1546.9" y="514.8" width="8" height="1.8" fill="#f06292"/>
<rect x="1560.8" y="515.3" width="2" height="4.7" fill="#3179f5"/>
<rect x="1557.8" y="515.3" width="8" height="1.6" fill="#3179f5"/>
<rect x="1571.6" y="514.0" width="2" height="11.9" fill="#3179f5"/>
<rect x="1568.6" y="514.0" width="8" height="1.6" fill="#3179f5"/>
<rect x="1579.5" y="515.2" width="8" height="1.6" fill="#3179f5"/>
<rect x="1593.4" y="505.8" width="2" height="23.7" fill="#f06292"/>
<rect x="1590.4" y="505.8" width="8" height="10.8" fill="#f06292"/>
<rect x="1604.3" y="489.8" width="2" height="16.5" fill="#3179f5"/>
<rect x="1601.3" y="495.0" width="8" height="11.3" fill="#3179f5"/>
<rect x="1612.2" y="506.6" width="8" height="35.3" fill="#f06292"/>
<rect x="1626.1" y="531.6" width="2" height="24.0" fill="#3179f5"/>
<rect x="1623.1" y="531.6" width="8" height="1.8" fill="#3179f5"/>
<rect x="1633.9" y="541.2" width="8" height="1.6" fill="#f06292"/>
<rect x="1647.8" y="531.1" width="2" height="42.5" fill="#f06292"/>
<rect x="1644.8" y="541.9" width="8" height="31.7" fill="#f06292"/>
<rect x="1658.7" y="612.8" width="2" height="55.0" fill="#f06292"/>
<rect x="1655.7" y="612.8" width="8" height="47.8" fill="#f06292"/>
<rect x="1669.6" y="654.1" width="2" height="29.7" fill="#f06292"/>
<rect x="1666.6" y="660.0" width="8" height="9.6" fill="#f06292"/>
<rect x="1680.5" y="672.9" width="2" height="32.8" fill="#f06292"/>
<rect x="1677.5" y="679.9" width="8" height="25.8" fill="#f06292"/>
<rect x="1691.3" y="692.8" width="2" height="42.1" fill="#3179f5"/>
<rect x="1688.3" y="708.8" width="8" height="20.9" fill="#3179f5"/>
<rect x="1702.2" y="703.9" width="2" height="15.5" fill="#f06292"/>
<rect x="1699.2" y="710.1" width="8" height="9.3" fill="#f06292"/>
<rect x="1710.1" y="701.9" width="8" height="16.7" fill="#3179f5"/>
<rect x="1724.0" y="642.0" width="2" height="44.9" fill="#3179f5"/>
<rect x="1721.0" y="676.1" width="8" height="9.0" fill="#3179f5"/>
<rect x="1731.9" y="655.2" width="8" height="1.6" fill="#3179f5"/>
<rect x="1742.8" y="596.9" width="8" height="54.7" fill="#3179f5"/>
<rect x="1753.6" y="629.6" width="8" height="15.5" fill="#f06292"/>
<rect x="1767.5" y="637.4" width="2" height="32.2" fill="#f06292"/>
<rect x="1764.5" y="658.0" width="8" height="1.6" fill="#f06292"/>
<rect x="1775.4" y="658.0" width="8" height="19.4" fill="#f06292"/>
<rect x="1789.3" y="654.2" width="2" height="32.7" fill="#3179f5"/>
<rect x="1786.3" y="654.2" width="8" height="27.0" fill="#3179f5"/>
<rect x="1797.2" y="645.1" width="8" height="7.8" fill="#f06292"/>
<rect x="1808.0" y="634.3" width="8" height="40.0" fill="#f06292"/>
<rect x="1821.9" y="654.2" width="2" height="54.6" fill="#f06292"/>
<rect x="1818.9" y="674.3" width="8" height="28.1" fill="#f06292"/>
<rect x="1832.8" y="677.4" width="2" height="32.2" fill="#f06292"/>
<rect x="1829.8" y="701.1" width="8" height="1.6" fill="#f06292"/>
<rect x="1843.7" y="677.4" width="2" height="34.3" fill="#f06292"/>
<rect x="1840.7" y="677.4" width="8" height="30.4" fill="#f06292"/>
<rect x="1851.6" y="709.1" width="8" height="2.6" fill="#3179f5"/>
<rect x="1865.5" y="717.4" width="2" height="29.1" fill="#f06292"/>
<rect x="1862.5" y="717.4" width="8" height="16.2" fill="#f06292"/>
<rect x="1876.3" y="706.3" width="2" height="38.7" fill="#f06292"/>
<rect x="1873.3" y="734.6" width="8" height="2.9" fill="#f06292"/>
<rect x="1887.2" y="734.1" width="2" height="11.6" fill="#f06292"/>
<rect x="1884.2" y="734.1" width="8" height="6.5" fill="#f06292"/>
<rect x="1898.1" y="715.5" width="2" height="48.3" fill="#f06292"/>
<rect x="1895.1" y="722.0" width="8" height="41.8" fill="#f06292"/>
<rect x="1909.0" y="759.1" width="2" height="80.3" fill="#f06292"/>
<rect x="1906.0" y="759.1" width="8" height="26.6" fill="#f06292"/>
<rect x="1919.9" y="780.0" width="2" height="34.9" fill="#3179f5"/>
<rect x="1916.9" y="795.3" width="8" height="11.6" fill="#3179f5"/>
<rect x="1930.8" y="773.3" width="2" height="21.4" fill="#f06292"/>
<rect x="1927.8" y="773.3" width="8" height="12.4" fill="#f06292"/>
<rect x="1938.6" y="784.4" width="8" height="6.0" fill="#3179f5"/>
<rect x="1952.5" y="783.1" width="2" height="19.4" fill="#3179f5"/>
<rect x="1949.5" y="783.1" width="8" height="1.8" fill="#3179f5"/>
<rect x="1963.4" y="781.8" width="2" height="2.6" fill="#f06292"/>
<rect x="1960.4" y="783.0" width="8" height="1.6" fill="#f06292"/>
<rect x="1974.3" y="735.4" width="2" height="40.0" fill="#3179f5"/>
<rect x="1971.3" y="745.7" width="8" height="29.7" fill="#3179f5"/>
<rect x="1985.2" y="747.5" width="2" height="10.5" fill="#3179f5"/>
<rect x="1982.2" y="747.5" width="8" height="6.0" fill="#3179f5"/>
<rect x="1996.0" y="739.9" width="2" height="14.2" fill="#f06292"/>
<rect x="1993.0" y="747.1" width="8" height="5.7" fill="#f06292"/>
<rect x="2003.9" y="751.5" width="8" height="1.6" fill="#3179f5"/>
<rect x="2017.8" y="719.3" width="2" height="32.2" fill="#3179f5"/>
<rect x="2014.8" y="719.3" width="8" height="31.7" fill="#3179f5"/>
<rect x="2025.7" y="733.0" width="8" height="11.6" fill="#f06292"/>
<rect x="2036.6" y="743.3" width="8" height="1.8" fill="#3179f5"/>
<rect x="2050.5" y="736.6" width="2" height="2.0" fill="#3179f5"/>
<rect x="2047.5" y="736.6" width="8" height="1.6" fill="#3179f5"/>
<rect x="2058.3" y="677.2" width="8" height="37.4" fill="#3179f5"/>
<rect x="2072.2" y="674.7" width="2" height="34.3" fill="#f06292"/>
<rect x="2069.2" y="681.1" width="8" height="18.3" fill="#f06292"/>
<rect x="2080.1" y="693.0" width="8" height="9.5" fill="#3179f5"/>
<rect x="2091.0" y="694.3" width="8" height="1.8" fill="#3179f5"/>
<rect x="2101.9" y="702.0" width="8" height="1.8" fill="#3179f5"/>
<rect x="2115.7" y="703.0" width="2" height="25.8" fill="#f06292"/>
<rect x="2112.7" y="703.0" width="8" height="12.9" fill="#f06292"/>
<rect x="2126.6" y="681.9" width="2" height="23.7" fill="#3179f5"/>
<rect x="2123.6" y="692.2" width="8" height="13.4" fill="#3179f5"/>
<rect x="2134.5" y="680.1" width="8" height="12.6" fill="#3179f5"/>
<rect x="2148.4" y="656.9" width="2" height="28.1" fill="#3179f5"/>
<rect x="2145.4" y="656.9" width="8" height="12.6" fill="#3179f5"/>
<rect x="2156.3" y="672.3" width="8" height="1.6" fill="#3179f5"/>
<rect x="2170.2" y="670.8" width="2" height="9.8" fill="#3179f5"/>
<rect x="2167.2" y="670.8" width="8" height="2.6" fill="#3179f5"/>
<rect x="2178.0" y="667.2" width="8" height="1.6" fill="#3179f5"/>
<rect x="2188.9" y="668.2" width="8" height="26.6" fill="#f06292"/>
<rect x="2199.8" y="678.5" width="8" height="1.6" fill="#3179f5"/>
<rect x="2210.7" y="678.0" width="8" height="1.6" fill="#3179f5"/>
<rect x="2224.6" y="656.1" width="2" height="18.6" fill="#3179f5"/>
<rect x="2221.6" y="668.2" width="8" height="6.5" fill="#3179f5"/>
<rect x="2232.4" y="667.2" width="8" height="1.6" fill="#3179f5"/>
<rect x="2246.3" y="656.6" width="2" height="11.1" fill="#3179f5"/>
<rect x="2243.3" y="656.6" width="8" height="3.9" fill="#3179f5"/>
<rect x="2257.2" y="656.1" width="2" height="8.5" fill="#f06292"/>
<rect x="2254.2" y="656.1" width="8" height="1.6" fill="#f06292"/>
<rect x="2268.1" y="645.8" width="2" height="22.4" fill="#3179f5"/>
<rect x="2265.1" y="651.4" width="8" height="7.3" fill="#3179f5"/>
<rect x="2276.0" y="627.2" width="8" height="22.4" fill="#3179f5"/>
<rect x="2289.9" y="622.5" width="2" height="7.3" fill="#f06292"/>
<rect x="2286.9" y="622.5" width="8" height="3.9" fill="#f06292"/>
<rect x="2300.7" y="563.2" width="2" height="62.4" fill="#3179f5"/>
<rect x="2297.7" y="572.2" width="8" height="25.1" fill="#3179f5"/>
<rect x="2311.6" y="570.4" width="2" height="29.4" fill="#f06292"/>
<rect x="2308.6" y="583.3" width="8" height="8.3" fill="#f06292"/>
<rect x="2319.5" y="628.5" width="8" height="12.1" fill="#f06292"/>
<rect x="2333.4" y="616.9" width="2" height="33.5" fill="#3179f5"/>
<rect x="2330.4" y="645.0" width="8" height="5.4" fill="#3179f5"/>
<rect x="2341.3" y="644.0" width="8" height="1.8" fill="#3179f5"/>
<rect x="2355.1" y="663.3" width="2" height="9.0" fill="#f06292"/>
<rect x="2352.1" y="665.1" width="8" height="7.2" fill="#f06292"/>
<rect x="2363.0" y="679.3" width="8" height="6.4" fill="#3179f5"/>
<rect x="2376.9" y="678.5" width="2" height="9.3" fill="#3179f5"/>
<rect x="2373.9" y="682.6" width="8" height="1.9" fill="#3179f5"/>
<rect x="2384.8" y="675.9" width="8" height="1.6" fill="#f06292"/>
<rect x="2395.7" y="685.2" width="8" height="1.6" fill="#3179f5"/>
<rect x="2406.6" y="685.2" width="8" height="1.6" fill="#3179f5"/>
<rect x="2420.4" y="686.3" width="2" height="22.7" fill="#f06292"/>
<rect x="2417.4" y="686.3" width="8" height="14.4" fill="#f06292"/>
<rect x="2428.3" y="712.0" width="8" height="1.6" fill="#3179f5"/>
<rect x="2439.2" y="696.8" width="8" height="1.8" fill="#3179f5"/>
<rect x="2450.1" y="712.0" width="8" height="8.6" fill="#f06292"/>
<rect x="2464.0" y="727.5" width="2" height="16.3" fill="#f06292"/>
<rect x="2461.0" y="736.8" width="8" height="2.3" fill="#f06292"/>
<rect x="2471.8" y="726.2" width="8" height="18.4" fill="#3179f5"/>
<rect x="2485.7" y="712.0" width="2" height="14.2" fill="#3179f5"/>
<rect x="2482.7" y="712.0" width="8" height="8.6" fill="#3179f5"/>
<rect x="2493.6" y="717.2" width="8" height="1.6" fill="#3179f5"/>
<rect x="2504.5" y="733.0" width="8" height="1.6" fill="#f06292"/>
<rect x="2515.4" y="723.1" width="8" height="1.6" fill="#3179f5"/>
<rect x="2529.3" y="701.7" width="2" height="7.8" fill="#3179f5"/>
<rect x="2526.3" y="703.0" width="8" height="6.5" fill="#3179f5"/>
<rect x="2540.1" y="710.2" width="2" height="7.8" fill="#3179f5"/>
<rect x="2537.1" y="710.2" width="8" height="1.6" fill="#3179f5"/>
<rect x="2548.0" y="708.2" width="8" height="1.6" fill="#3179f5"/>
<rect x="2558.9" y="692.2" width="8" height="1.6" fill="#3179f5"/>
<rect x="2572.8" y="685.6" width="2" height="18.9" fill="#3179f5"/>
<rect x="2569.8" y="685.6" width="8" height="4.7" fill="#3179f5"/>
<rect x="2583.7" y="683.3" width="2" height="15.2" fill="#3179f5"/>
<rect x="2580.7" y="683.3" width="8" height="7.0" fill="#3179f5"/>
<rect x="2594.6" y="675.6" width="2" height="19.1" fill="#f06292"/>
<rect x="2591.6" y="675.6" width="8" height="7.5" fill="#f06292"/>
<rect x="2605.4" y="692.1" width="2" height="5.1" fill="#3179f5"/>
<rect x="2602.4" y="692.1" width="8" height="1.6" fill="#3179f5"/>
<rect x="2616.3" y="673.5" width="2" height="11.6" fill="#3179f5"/>
<rect x="2613.3" y="681.3" width="8" height="3.8" fill="#3179f5"/>
<rect x="2624.2" y="682.5" width="8" height="1.6" fill="#3179f5"/>
<rect x="2635.1" y="682.5" width="8" height="1.6" fill="#3179f5"/>
<rect x="2646.0" y="672.2" width="8" height="30.2" fill="#f06292"/>
<rect x="2656.8" y="684.1" width="8" height="1.6" fill="#3179f5"/>
<rect x="2667.7" y="692.9" width="8" height="5.6" fill="#3179f5"/>
<rect x="2681.6" y="680.5" width="2" height="13.1" fill="#3179f5"/>
<rect x="2678.6" y="692.1" width="8" height="1.6" fill="#3179f5"/>
<rect x="2689.5" y="691.1" width="8" height="23.2" fill="#f06292"/>
<rect x="2700.4" y="721.2" width="8" height="1.6" fill="#f06292"/>
<rect x="2711.3" y="724.3" width="8" height="17.1" fill="#f06292"/>
<rect x="2722.1" y="740.1" width="8" height="29.4" fill="#f06292"/>
<rect x="2736.0" y="767.7" width="2" height="14.9" fill="#f06292"/>
<rect x="2733.0" y="777.2" width="8" height="5.4" fill="#f06292"/>
<rect x="2746.9" y="773.6" width="2" height="10.3" fill="#f06292"/>
<rect x="2743.9" y="782.4" width="8" height="1.6" fill="#f06292"/>
<rect x="2757.8" y="777.2" width="2" height="13.2" fill="#f06292"/>
<rect x="2754.8" y="777.2" width="8" height="1.6" fill="#f06292"/>
<rect x="2765.7" y="776.2" width="8" height="14.2" fill="#f06292"/>
<rect x="2776.5" y="754.3" width="8" height="36.6" fill="#3179f5"/>
<rect x="2790.4" y="752.2" width="2" height="12.4" fill="#f06292"/>
<rect x="2787.4" y="754.0" width="8" height="10.6" fill="#f06292"/>
<rect x="2798.3" y="750.1" width="8" height="34.3" fill="#f06292"/>
<rect x="2809.2" y="771.0" width="8" height="1.6" fill="#3179f5"/>
<rect x="2820.1" y="768.2" width="8" height="1.6" fill="#3179f5"/>
<rect x="2831.0" y="783.1" width="8" height="22.5" fill="#f06292"/>
<rect x="2841.8" y="811.5" width="8" height="1.6" fill="#3179f5"/>
<rect x="2852.7" y="793.2" width="8" height="7.2" fill="#3179f5"/>
<rect x="2866.6" y="769.2" width="2" height="16.7" fill="#3179f5"/>
<rect x="2863.6" y="769.2" width="8" height="6.4" fill="#3179f5"/>
<rect x="2874.5" y="762.2" width="8" height="1.6" fill="#3179f5"/>
<rect x="2885.4" y="758.3" width="8" height="16.3" fill="#3179f5"/>
<rect x="2899.2" y="763.0" width="2" height="6.4" fill="#f06292"/>
<rect x="2896.2" y="765.3" width="8" height="4.1" fill="#f06292"/>
<rect x="2907.1" y="769.4" width="8" height="1.6" fill="#3179f5"/>
<rect x="2921.0" y="769.2" width="2" height="23.4" fill="#f06292"/>
<rect x="2918.0" y="769.2" width="8" height="19.6" fill="#f06292"/>
<rect x="2928.9" y="765.3" width="8" height="22.2" fill="#3179f5"/>
<rect x="2939.8" y="764.2" width="8" height="1.6" fill="#3179f5"/>
<rect x="2950.7" y="764.2" width="8" height="1.6" fill="#3179f5"/>
<rect x="2961.5" y="764.2" width="8" height="1.6" fill="#3179f5"/>
<rect x="2975.4" y="757.8" width="2" height="9.8" fill="#f06292"/>
<rect x="2972.4" y="765.6" width="8" height="2.0" fill="#f06292"/>
<rect x="2983.3" y="744.2" width="8" height="23.7" fill="#f06292"/>
<rect x="2994.2" y="745.4" width="8" height="10.4" fill="#3179f5"/>
<rect x="3005.1" y="745.4" width="8" height="12.4" fill="#f06292"/>
<rect x="3015.9" y="766.3" width="8" height="1.6" fill="#3179f5"/>
<rect x="3026.8" y="769.2" width="8" height="1.6" fill="#3179f5"/>
<rect x="3037.7" y="768.1" width="8" height="1.6" fill="#3179f5"/>
<rect x="3048.6" y="762.2" width="8" height="1.6" fill="#3179f5"/>
<rect x="3059.5" y="774.3" width="8" height="1.6" fill="#3179f5"/>
<rect x="3070.4" y="770.2" width="8" height="1.6" fill="#3179f5"/>
<rect x="3081.2" y="785.2" width="8" height="1.6" fill="#3179f5"/>
<rect x="3092.1" y="779.2" width="8" height="1.6" fill="#3179f5"/>
<rect x="3103.0" y="761.4" width="8" height="9.8" fill="#3179f5"/>
<rect x="3116.9" y="763.0" width="2" height="22.4" fill="#f06292"/>
<rect x="3113.9" y="763.0" width="8" height="9.5" fill="#f06292"/>
<rect x="3127.8" y="774.3" width="2" height="8.5" fill="#f06292"/>
<rect x="3124.8" y="774.3" width="8" height="3.9" fill="#f06292"/>
<rect x="3135.7" y="782.3" width="8" height="1.6" fill="#3179f5"/>
<rect x="3149.5" y="774.3" width="2" height="21.4" fill="#f06292"/>
<rect x="3146.5" y="784.1" width="8" height="11.6" fill="#f06292"/>
<rect x="3160.4" y="771.2" width="2" height="25.3" fill="#3179f5"/>
<rect x="3157.4" y="773.8" width="8" height="22.7" fill="#3179f5"/>
<rect x="3168.3" y="759.1" width="8" height="1.6" fill="#3179f5"/>
<rect x="3179.2" y="757.0" width="8" height="1.6" fill="#3179f5"/>
<rect x="3190.1" y="758.3" width="8" height="20.2" fill="#f06292"/>
<rect x="3200.9" y="787.5" width="8" height="2.0" fill="#f06292"/>
<rect x="3211.8" y="768.1" width="8" height="2.4" fill="#f06292"/>
<rect x="3225.7" y="733.8" width="2" height="34.9" fill="#3179f5"/>
<rect x="3222.7" y="755.0" width="8" height="13.7" fill="#3179f5"/>
<rect x="3236.6" y="726.9" width="2" height="13.9" fill="#f06292"/>
<rect x="3233.6" y="726.9" width="8" height="12.1" fill="#f06292"/>
<rect x="3244.5" y="741.1" width="8" height="11.3" fill="#f06292"/>
<rect x="3255.4" y="742.1" width="8" height="1.6" fill="#3179f5"/>
<rect x="3266.2" y="750.1" width="8" height="1.6" fill="#3179f5"/>
<rect x="3277.1" y="760.1" width="8" height="1.6" fill="#3179f5"/>
<rect x="3288.0" y="759.1" width="8" height="3.1" fill="#f06292"/>
<rect x="3298.9" y="760.9" width="8" height="9.6" fill="#3179f5"/>
<rect x="3309.8" y="778.2" width="8" height="9.3" fill="#f06292"/>
<rect x="3320.6" y="786.2" width="8" height="1.6" fill="#3179f5"/>
<rect x="3331.5" y="782.1" width="8" height="1.6" fill="#3179f5"/>
<rect x="3345.4" y="770.0" width="2" height="13.4" fill="#3179f5"/>
<rect x="3342.4" y="775.1" width="8" height="8.3" fill="#3179f5"/>
<rect x="3356.3" y="777.2" width="2" height="18.5" fill="#3179f5"/>
<rect x="3353.3" y="777.2" width="8" height="6.9" fill="#3179f5"/>
<rect x="3364.2" y="776.1" width="8" height="1.6" fill="#3179f5"/>
<rect x="3375.1" y="776.1" width="8" height="1.6" fill="#3179f5"/>
<rect x="3385.9" y="787.2" width="8" height="13.2" fill="#f06292"/>
<rect x="3396.8" y="803.0" width="8" height="8.7" fill="#f06292"/>
<rect x="3410.7" y="803.0" width="2" height="29.6" fill="#f06292"/>
<rect x="3407.7" y="808.1" width="8" height="24.5" fill="#f06292"/>
<rect x="3421.6" y="820.2" width="2" height="12.4" fill="#f06292"/>
<rect x="3418.6" y="825.4" width="8" height="1.6" fill="#f06292"/>
<rect x="3429.5" y="831.3" width="8" height="1.6" fill="#3179f5"/>
<rect x="3440.3" y="824.1" width="8" height="1.6" fill="#f06292"/>
<rect x="3454.2" y="805.3" width="2" height="19.3" fill="#3179f5"/>
<rect x="3451.2" y="805.3" width="8" height="17.0" fill="#3179f5"/>
<rect x="3462.1" y="810.4" width="8" height="1.6" fill="#3179f5"/>
<rect x="3473.0" y="815.1" width="8" height="1.6" fill="#3179f5"/>
<rect x="3483.9" y="814.3" width="8" height="1.6" fill="#3179f5"/>
<rect x="3494.8" y="827.2" width="8" height="1.6" fill="#3179f5"/>
<rect x="3505.6" y="812.0" width="8" height="1.6" fill="#3179f5"/>
<rect x="3516.5" y="805.5" width="8" height="8.3" fill="#3179f5"/>
<rect x="3527.4" y="817.2" width="8" height="31.4" fill="#f06292"/>
<rect x="3538.3" y="828.0" width="8" height="20.6" fill="#3179f5"/>
<rect x="3549.2" y="823.1" width="8" height="1.6" fill="#3179f5"/>
<rect x="3560.0" y="833.1" width="8" height="1.6" fill="#3179f5"/>
<rect x="3570.9" y="823.1" width="8" height="1.6" fill="#3179f5"/>
<rect x="3584.8" y="822.3" width="2" height="17.3" fill="#3179f5"/>
<rect x="3581.8" y="822.3" width="8" height="1.6" fill="#3179f5"/>
<rect x="3595.7" y="793.2" width="2" height="12.3" fill="#f06292"/>
<rect x="3592.7" y="793.2" width="8" height="10.8" fill="#f06292"/>
<rect x="3603.6" y="776.9" width="8" height="11.6" fill="#3179f5"/>
<rect x="3614.5" y="784.9" width="8" height="1.6" fill="#3179f5"/>
<rect x="3628.3" y="769.2" width="2" height="28.6" fill="#f06292"/>
<rect x="3625.3" y="773.8" width="8" height="12.9" fill="#f06292"/>
<rect x="3639.2" y="768.1" width="2" height="9.1" fill="#f06292"/>
<rect x="3636.2" y="770.0" width="8" height="7.2" fill="#f06292"/>
<rect x="3650.1" y="773.3" width="2" height="8.3" fill="#3179f5"/>
<rect x="3647.1" y="775.9" width="8" height="5.7" fill="#3179f5"/>
<rect x="3661.0" y="770.0" width="2" height="8.2" fill="#f06292"/>
<rect x="3658.0" y="773.3" width="8" height="2.1" fill="#f06292"/>
<rect x="3668.9" y="775.1" width="8" height="5.7" fill="#3179f5"/>
<rect x="3679.8" y="791.1" width="8" height="1.6" fill="#3179f5"/>
<rect x="3690.6" y="780.3" width="8" height="4.4" fill="#f06292"/>
<rect x="3701.5" y="783.3" width="8" height="1.6" fill="#3179f5"/>
<rect x="3712.4" y="769.3" width="8" height="7.2" fill="#3179f5"/>
<rect x="3726.3" y="768.5" width="2" height="12.4" fill="#f06292"/>
<rect x="3723.3" y="768.5" width="8" height="1.6" fill="#f06292"/>
<rect x="3737.2" y="727.2" width="2" height="22.2" fill="#f06292"/>
<rect x="3734.2" y="727.2" width="8" height="1.6" fill="#f06292"/>
<rect x="3748.0" y="770.1" width="2" height="8.5" fill="#f06292"/>
<rect x="3745.0" y="776.5" width="8" height="2.1" fill="#f06292"/>
<rect x="3755.9" y="769.3" width="8" height="5.2" fill="#3179f5"/>
<rect x="3766.8" y="770.6" width="8" height="5.9" fill="#3179f5"/>
<rect x="3777.7" y="759.0" width="8" height="30.9" fill="#3179f5"/>
<rect x="3788.6" y="737.1" width="8" height="17.5" fill="#3179f5"/>
<rect x="3799.5" y="731.9" width="8" height="10.3" fill="#f06292"/>
<rect x="3813.3" y="737.8" width="2" height="8.8" fill="#3179f5"/>
<rect x="3810.3" y="740.1" width="8" height="6.5" fill="#3179f5"/>
<rect x="3821.2" y="749.2" width="8" height="1.6" fill="#3179f5"/>
<rect x="3835.1" y="742.2" width="2" height="14.2" fill="#3179f5"/>
<rect x="3832.1" y="742.2" width="8" height="1.6" fill="#3179f5"/>
<rect x="3843.0" y="742.2" width="8" height="1.6" fill="#3179f5"/>
<rect x="3853.9" y="742.2" width="8" height="1.6" fill="#3179f5"/>
<rect x="3864.7" y="747.4" width="8" height="3.1" fill="#f06292"/>
<rect x="3875.6" y="745.3" width="8" height="5.9" fill="#f06292"/>
<rect x="3889.5" y="735.8" width="2" height="14.7" fill="#f06292"/>
<rect x="3886.5" y="746.6" width="8" height="3.9" fill="#f06292"/>
<rect x="3897.4" y="742.7" width="8" height="1.6" fill="#3179f5"/>
<rect x="3908.3" y="742.2" width="8" height="1.6" fill="#3179f5"/>
<rect x="3919.2" y="728.0" width="8" height="15.5" fill="#3179f5"/>
<rect x="3930.0" y="726.2" width="8" height="1.6" fill="#3179f5"/>
<rect x="3943.9" y="720.3" width="2" height="18.0" fill="#f06292"/>
<rect x="3940.9" y="726.2" width="8" height="12.1" fill="#f06292"/>
<rect x="3954.8" y="717.2" width="2" height="10.3" fill="#f06292"/>
<rect x="3951.8" y="726.0" width="8" height="1.6" fill="#f06292"/>
<rect x="3962.7" y="720.3" width="8" height="12.9" fill="#f06292"/>
<rect x="3973.6" y="738.3" width="8" height="17.3" fill="#f06292"/>
<rect x="3987.4" y="754.3" width="2" height="16.5" fill="#f06292"/>
<rect x="3984.4" y="763.8" width="8" height="2.6" fill="#f06292"/>
<rect x="3998.3" y="767.2" width="2" height="11.3" fill="#3179f5"/>
<rect x="3995.3" y="767.2" width="8" height="3.6" fill="#3179f5"/>
<rect x="4006.2" y="765.9" width="8" height="1.6" fill="#3179f5"/>
<rect x="4020.1" y="772.3" width="2" height="16.5" fill="#3179f5"/>
<rect x="4017.1" y="772.3" width="8" height="1.6" fill="#3179f5"/>
<rect x="4028.0" y="721.3" width="8" height="43.0" fill="#3179f5"/>
<rect x="4041.9" y="722.0" width="2" height="9.6" fill="#3179f5"/>
<rect x="4038.9" y="728.2" width="8" height="3.4" fill="#3179f5"/>
<rect x="4049.7" y="727.2" width="8" height="11.3" fill="#f06292"/>
<rect x="4060.6" y="725.1" width="8" height="16.3" fill="#3179f5"/>
<rect x="4071.5" y="729.0" width="8" height="8.5" fill="#f06292"/>
<rect x="4085.4" y="737.5" width="2" height="7.7" fill="#f06292"/>
<rect x="4082.4" y="741.4" width="8" height="3.8" fill="#f06292"/>
<rect x="4096.3" y="739.3" width="2" height="22.5" fill="#3179f5"/>
<rect x="4093.3" y="744.0" width="8" height="10.8" fill="#3179f5"/>
<rect x="4107.1" y="743.2" width="2" height="12.4" fill="#f06292"/>
<rect x="4104.1" y="743.2" width="8" height="8.2" fill="#f06292"/>
<rect x="4115.0" y="760.0" width="8" height="1.8" fill="#f06292"/>
<rect x="4128.9" y="772.3" width="2" height="11.4" fill="#f06292"/>
<rect x="4125.9" y="772.3" width="8" height="9.1" fill="#f06292"/>
<rect x="4139.8" y="776.2" width="2" height="20.4" fill="#f06292"/>
<rect x="4136.8" y="776.2" width="8" height="18.6" fill="#f06292"/>
<rect x="4147.7" y="793.5" width="8" height="11.6" fill="#f06292"/>
<rect x="4161.6" y="798.1" width="2" height="19.9" fill="#3179f5"/>
<rect x="4158.6" y="798.1" width="8" height="12.2" fill="#3179f5"/>
<rect x="4172.4" y="789.6" width="2" height="28.4" fill="#f06292"/>
<rect x="4169.4" y="798.1" width="8" height="12.2" fill="#f06292"/>
<rect x="4183.3" y="805.1" width="2" height="7.2" fill="#f06292"/>
<rect x="4180.3" y="805.1" width="8" height="1.6" fill="#f06292"/>
<rect x="4194.2" y="789.6" width="2" height="20.7" fill="#f06292"/>
<rect x="4191.2" y="807.7" width="8" height="2.6" fill="#f06292"/>
<rect x="4205.1" y="784.5" width="2" height="19.8" fill="#f06292"/>
<rect x="4202.1" y="799.4" width="8" height="1.8" fill="#f06292"/>
<rect x="4216.0" y="789.1" width="2" height="21.1" fill="#3179f5"/>
<rect x="4213.0" y="799.2" width="8" height="8.5" fill="#3179f5"/>
<rect x="4226.9" y="799.4" width="2" height="19.1" fill="#f06292"/>
<rect x="4223.9" y="799.4" width="8" height="6.2" fill="#f06292"/>
<rect x="4234.7" y="793.0" width="8" height="27.6" fill="#3179f5"/>
<rect x="4248.6" y="789.1" width="2" height="15.5" fill="#3179f5"/>
<rect x="4245.6" y="789.1" width="8" height="5.2" fill="#3179f5"/>
<rect x="4259.5" y="784.5" width="2" height="20.1" fill="#f06292"/>
<rect x="4256.5" y="788.8" width="8" height="1.6" fill="#f06292"/>
<rect x="22.9" y="2400.1" width="9" height="4.4" fill="#f279a1"/>
<rect x="33.8" y="2394.3" width="9" height="10.2" fill="#82a4fc"/>
<rect x="44.7" y="2403.0" width="9" height="1.5" fill="#82a4fc"/>
<rect x="55.5" y="2396.4" width="9" height="8.1" fill="#82a4fc"/>
<rect x="66.4" y="2394.3" width="9" height="10.2" fill="#82a4fc"/>
<rect x="77.3" y="2401.3" width="9" height="3.2" fill="#82a4fc"/>
<rect x="88.2" y="2400.1" width="9" height="4.4" fill="#f279a1"/>
<rect x="99.1" y="2396.4" width="9" height="8.1" fill="#f279a1"/>
<rect x="110.0" y="2396.4" width="9" height="8.1" fill="#82a4fc"/>
<rect x="120.8" y="2403.0" width="9" height="1.5" fill="#82a4fc"/>
<rect x="131.7" y="2400.1" width="9" height="4.4" fill="#82a4fc"/>
<rect x="142.6" y="2371.2" width="9" height="33.3" fill="#82a4fc"/>
<rect x="153.5" y="2403.0" width="9" height="1.5" fill="#f279a1"/>
<rect x="164.4" y="2401.3" width="9" height="3.2" fill="#f279a1"/>
<rect x="175.2" y="2394.3" width="9" height="10.2" fill="#f279a1"/>
<rect x="186.1" y="2386.2" width="9" height="18.3" fill="#82a4fc"/>
<rect x="197.0" y="2391.1" width="9" height="13.4" fill="#82a4fc"/>
<rect x="207.9" y="2403.0" width="9" height="1.5" fill="#f279a1"/>
<rect x="218.8" y="2401.3" width="9" height="3.2" fill="#82a4fc"/>
<rect x="229.7" y="2400.1" width="9" height="4.4" fill="#82a4fc"/>
<rect x="240.5" y="2403.0" width="9" height="1.5" fill="#f279a1"/>
<rect x="251.4" y="2396.4" width="9" height="8.1" fill="#f279a1"/>
<rect x="262.3" y="2388.2" width="9" height="16.3" fill="#82a4fc"/>
<rect x="273.2" y="2401.3" width="9" height="3.2" fill="#82a4fc"/>
<rect x="284.1" y="2385.3" width="9" height="19.2" fill="#82a4fc"/>
<rect x="294.9" y="2398.4" width="9" height="6.1" fill="#82a4fc"/>
<rect x="305.8" y="2394.3" width="9" height="10.2" fill="#f279a1"/>
<rect x="316.7" y="2389.2" width="9" height="15.3" fill="#f279a1"/>
<rect x="327.6" y="2398.9" width="9" height="5.6" fill="#82a4fc"/>
<rect x="338.5" y="2398.4" width="9" height="6.1" fill="#f279a1"/>
<rect x="349.4" y="2394.3" width="9" height="10.2" fill="#f279a1"/>
<rect x="360.2" y="2394.3" width="9" height="10.2" fill="#f279a1"/>
<rect x="371.1" y="2390.4" width="9" height="14.1" fill="#f279a1"/>
<rect x="382.0" y="2374.1" width="9" height="30.4" fill="#82a4fc"/>
<rect x="392.9" y="2353.0" width="9" height="51.5" fill="#f279a1"/>
<rect x="403.8" y="2394.7" width="9" height="9.8" fill="#f279a1"/>
<rect x="414.7" y="2394.7" width="9" height="9.8" fill="#82a4fc"/>
<rect x="425.5" y="2355.2" width="9" height="49.3" fill="#f279a1"/>
<rect x="436.4" y="2386.2" width="9" height="18.3" fill="#82a4fc"/>
<rect x="447.3" y="2384.3" width="9" height="20.2" fill="#f279a1"/>
<rect x="458.2" y="2377.3" width="9" height="27.2" fill="#f279a1"/>
<rect x="469.1" y="2354.2" width="9" height="50.3" fill="#82a4fc"/>
<rect x="479.9" y="2366.8" width="9" height="37.7" fill="#82a4fc"/>
<rect x="490.8" y="2394.0" width="9" height="10.5" fill="#82a4fc"/>
<rect x="501.7" y="2330.4" width="9" height="74.1" fill="#82a4fc"/>
<rect x="512.6" y="2349.3" width="9" height="55.2" fill="#f279a1"/>
<rect x="523.5" y="2342.0" width="9" height="62.5" fill="#f279a1"/>
<rect x="534.4" y="2358.1" width="9" height="46.4" fill="#f279a1"/>
<rect x="545.2" y="2303.2" width="9" height="101.3" fill="#82a4fc"/>
<rect x="556.1" y="2208.3" width="9" height="196.2" fill="#f279a1"/>
<rect x="567.0" y="2100.2" width="9" height="304.3" fill="#82a4fc"/>
<rect x="577.9" y="2233.3" width="9" height="171.2" fill="#f279a1"/>
<rect x="588.8" y="2308.1" width="9" height="96.4" fill="#82a4fc"/>
<rect x="599.6" y="2342.0" width="9" height="62.5" fill="#82a4fc"/>
<rect x="610.5" y="2328.0" width="9" height="76.5" fill="#82a4fc"/>
<rect x="621.4" y="2315.1" width="9" height="89.4" fill="#82a4fc"/>
<rect x="632.3" y="2181.1" width="9" height="223.4" fill="#82a4fc"/>
<rect x="643.2" y="2344.2" width="9" height="60.3" fill="#f279a1"/>
<rect x="654.1" y="2336.0" width="9" height="68.5" fill="#f279a1"/>
<rect x="664.9" y="2353.9" width="9" height="50.6" fill="#f279a1"/>
<rect x="675.8" y="2372.9" width="9" height="31.6" fill="#82a4fc"/>
<rect x="686.7" y="2294.0" width="9" height="110.5" fill="#82a4fc"/>
<rect x="697.6" y="2370.0" width="9" height="34.5" fill="#82a4fc"/>
<rect x="708.5" y="2370.9" width="9" height="33.6" fill="#82a4fc"/>
<rect x="719.3" y="2357.8" width="9" height="46.7" fill="#82a4fc"/>
<rect x="730.2" y="2370.9" width="9" height="33.6" fill="#f279a1"/>
<rect x="741.1" y="2362.0" width="9" height="42.5" fill="#f279a1"/>
<rect x="752.0" y="2336.9" width="9" height="67.6" fill="#f279a1"/>
<rect x="762.9" y="2362.0" width="9" height="42.5" fill="#82a4fc"/>
<rect x="773.8" y="2329.2" width="9" height="75.3" fill="#82a4fc"/>
<rect x="784.6" y="2368.0" width="9" height="36.5" fill="#82a4fc"/>
<rect x="795.5" y="2369.2" width="9" height="35.3" fill="#f279a1"/>
<rect x="806.4" y="2355.9" width="9" height="48.6" fill="#f279a1"/>
<rect x="817.3" y="2383.1" width="9" height="21.4" fill="#82a4fc"/>
<rect x="828.2" y="2370.0" width="9" height="34.5" fill="#82a4fc"/>
<rect x="839.0" y="2366.8" width="9" height="37.7" fill="#82a4fc"/>
<rect x="849.9" y="2346.7" width="9" height="57.8" fill="#f279a1"/>
<rect x="860.8" y="2359.0" width="9" height="45.5" fill="#82a4fc"/>
<rect x="871.7" y="2351.8" width="9" height="52.7" fill="#f279a1"/>
<rect x="882.6" y="2363.9" width="9" height="40.6" fill="#f279a1"/>
<rect x="893.5" y="2383.1" width="9" height="21.4" fill="#f279a1"/>
<rect x="904.3" y="2345.0" width="9" height="59.5" fill="#f279a1"/>
<rect x="915.2" y="2378.2" width="9" height="26.3" fill="#82a4fc"/>
<rect x="926.1" y="2370.0" width="9" height="34.5" fill="#f279a1"/>
<rect x="937.0" y="2370.9" width="9" height="33.6" fill="#f279a1"/>
<rect x="947.9" y="2338.2" width="9" height="66.3" fill="#f279a1"/>
<rect x="958.8" y="2353.9" width="9" height="50.6" fill="#f279a1"/>
<rect x="969.6" y="2355.9" width="9" height="48.6" fill="#f279a1"/>
<rect x="980.5" y="2363.2" width="9" height="41.3" fill="#82a4fc"/>
<rect x="991.4" y="2313.9" width="9" height="90.6" fill="#82a4fc"/>
<rect x="1002.3" y="2396.0" width="9" height="8.5" fill="#f279a1"/>
<rect x="1013.2" y="2366.8" width="9" height="37.7" fill="#82a4fc"/>
<rect x="1024.0" y="2387.9" width="9" height="16.6" fill="#82a4fc"/>
<rect x="1034.9" y="2391.1" width="9" height="13.4" fill="#f279a1"/>
<rect x="1045.8" y="2374.8" width="9" height="29.7" fill="#82a4fc"/>
<rect x="1056.7" y="2364.9" width="9" height="39.6" fill="#f279a1"/>
<rect x="1067.6" y="2389.9" width="9" height="14.6" fill="#82a4fc"/>
<rect x="1078.5" y="2321.2" width="9" height="83.3" fill="#82a4fc"/>
<rect x="1089.3" y="2385.8" width="9" height="18.7" fill="#f279a1"/>
<rect x="1100.2" y="2357.8" width="9" height="46.7" fill="#f279a1"/>
<rect x="1111.1" y="2400.8" width="9" height="3.7" fill="#82a4fc"/>
<rect x="1122.0" y="2378.2" width="9" height="26.3" fill="#f279a1"/>
<rect x="1132.9" y="2389.2" width="9" height="15.3" fill="#f279a1"/>
<rect x="1143.7" y="2374.8" width="9" height="29.7" fill="#82a4fc"/>
<rect x="1154.6" y="2389.9" width="9" height="14.6" fill="#f279a1"/>
<rect x="1165.5" y="2385.0" width="9" height="19.5" fill="#f279a1"/>
<rect x="1176.4" y="2319.0" width="9" height="85.5" fill="#f279a1"/>
<rect x="1187.3" y="2380.2" width="9" height="24.3" fill="#82a4fc"/>
<rect x="1198.2" y="2369.2" width="9" height="35.3" fill="#82a4fc"/>
<rect x="1209.0" y="2390.4" width="9" height="14.1" fill="#f279a1"/>
<rect x="1219.9" y="2382.1" width="9" height="22.4" fill="#82a4fc"/>
<rect x="1230.8" y="2389.2" width="9" height="15.3" fill="#82a4fc"/>
<rect x="1241.7" y="2321.2" width="9" height="83.3" fill="#f279a1"/>
<rect x="1252.6" y="2378.2" width="9" height="26.3" fill="#f279a1"/>
<rect x="1263.4" y="2349.1" width="9" height="55.4" fill="#f279a1"/>
<rect x="1274.3" y="2387.0" width="9" height="17.5" fill="#82a4fc"/>
<rect x="1285.2" y="2384.3" width="9" height="20.2" fill="#f279a1"/>
<rect x="1296.1" y="2377.3" width="9" height="27.2" fill="#82a4fc"/>
<rect x="1307.0" y="2392.3" width="9" height="12.2" fill="#f279a1"/>
<rect x="1317.9" y="2358.1" width="9" height="46.4" fill="#82a4fc"/>
<rect x="1328.7" y="2389.2" width="9" height="15.3" fill="#f279a1"/>
<rect x="1339.6" y="2385.0" width="9" height="19.5" fill="#f279a1"/>
<rect x="1350.5" y="2359.0" width="9" height="45.5" fill="#f279a1"/>
<rect x="1361.4" y="2328.0" width="9" height="76.5" fill="#82a4fc"/>
<rect x="1372.3" y="2372.9" width="9" height="31.6" fill="#f279a1"/>
<rect x="1383.2" y="2390.4" width="9" height="14.1" fill="#82a4fc"/>
<rect x="1394.0" y="2393.0" width="9" height="11.5" fill="#82a4fc"/>
<rect x="1404.9" y="2378.2" width="9" height="26.3" fill="#f279a1"/>
<rect x="1415.8" y="2374.1" width="9" height="30.4" fill="#82a4fc"/>
<rect x="1426.7" y="2366.1" width="9" height="38.4" fill="#82a4fc"/>
<rect x="1437.6" y="2372.9" width="9" height="31.6" fill="#82a4fc"/>
<rect x="1448.4" y="2313.9" width="9" height="90.6" fill="#f279a1"/>
<rect x="1459.3" y="2374.8" width="9" height="29.7" fill="#82a4fc"/>
<rect x="1470.2" y="2374.8" width="9" height="29.7" fill="#82a4fc"/>
<rect x="1481.1" y="2383.1" width="9" height="21.4" fill="#f279a1"/>
<rect x="1492.0" y="2374.1" width="9" height="30.4" fill="#f279a1"/>
<rect x="1502.9" y="2387.0" width="9" height="17.5" fill="#82a4fc"/>
<rect x="1513.7" y="2360.0" width="9" height="44.5" fill="#f279a1"/>
<rect x="1524.6" y="2395.2" width="9" height="9.3" fill="#f279a1"/>
<rect x="1535.5" y="2380.2" width="9" height="24.3" fill="#f279a1"/>
<rect x="1546.4" y="2374.8" width="9" height="29.7" fill="#82a4fc"/>
<rect x="1557.3" y="2380.2" width="9" height="24.3" fill="#82a4fc"/>
<rect x="1568.1" y="2385.0" width="9" height="19.5" fill="#82a4fc"/>
<rect x="1579.0" y="2380.9" width="9" height="23.6" fill="#f279a1"/>
<rect x="1589.9" y="2386.2" width="9" height="18.3" fill="#82a4fc"/>
<rect x="1600.8" y="2383.1" width="9" height="21.4" fill="#82a4fc"/>
<rect x="1611.7" y="2390.4" width="9" height="14.1" fill="#f279a1"/>
<rect x="1622.6" y="2398.4" width="9" height="6.1" fill="#82a4fc"/>
<rect x="1633.4" y="2401.3" width="9" height="3.2" fill="#f279a1"/>
<rect x="1644.3" y="2354.2" width="9" height="50.3" fill="#f279a1"/>
<rect x="1655.2" y="2369.2" width="9" height="35.3" fill="#f279a1"/>
<rect x="1666.1" y="2329.9" width="9" height="74.6" fill="#f279a1"/>
<rect x="1677.0" y="2363.2" width="9" height="41.3" fill="#f279a1"/>
<rect x="1687.8" y="2342.0" width="9" height="62.5" fill="#f279a1"/>
<rect x="1698.7" y="2378.2" width="9" height="26.3" fill="#f279a1"/>
<rect x="1709.6" y="2395.2" width="9" height="9.3" fill="#82a4fc"/>
<rect x="1720.5" y="2355.2" width="9" height="49.3" fill="#82a4fc"/>
<rect x="1731.4" y="2400.1" width="9" height="4.4" fill="#82a4fc"/>
<rect x="1742.3" y="2392.3" width="9" height="12.2" fill="#82a4fc"/>
<rect x="1753.1" y="2392.3" width="9" height="12.2" fill="#f279a1"/>
<rect x="1764.0" y="2394.0" width="9" height="10.5" fill="#f279a1"/>
<rect x="1774.9" y="2398.4" width="9" height="6.1" fill="#f279a1"/>
<rect x="1785.8" y="2372.9" width="9" height="31.6" fill="#82a4fc"/>
<rect x="1796.7" y="2400.1" width="9" height="4.4" fill="#82a4fc"/>
<rect x="1807.5" y="2397.2" width="9" height="7.3" fill="#f279a1"/>
<rect x="1818.4" y="2363.9" width="9" height="40.6" fill="#f279a1"/>
<rect x="1829.3" y="2385.0" width="9" height="19.5" fill="#f279a1"/>
<rect x="1840.2" y="2380.9" width="9" height="23.6" fill="#f279a1"/>
<rect x="1851.1" y="2398.4" width="9" height="6.1" fill="#f279a1"/>
<rect x="1862.0" y="2377.7" width="9" height="26.8" fill="#f279a1"/>
<rect x="1872.8" y="2390.4" width="9" height="14.1" fill="#f279a1"/>
<rect x="1883.7" y="2389.2" width="9" height="15.3" fill="#f279a1"/>
<rect x="1894.6" y="2353.0" width="9" height="51.5" fill="#f279a1"/>
<rect x="1905.5" y="2321.2" width="9" height="83.3" fill="#f279a1"/>
<rect x="1916.4" y="2372.2" width="9" height="32.3" fill="#f279a1"/>
<rect x="1927.2" y="2387.0" width="9" height="17.5" fill="#82a4fc"/>
<rect x="1938.1" y="2393.0" width="9" height="11.5" fill="#82a4fc"/>
<rect x="1949.0" y="2380.9" width="9" height="23.6" fill="#82a4fc"/>
<rect x="1959.9" y="2383.1" width="9" height="21.4" fill="#f279a1"/>
<rect x="1970.8" y="2383.1" width="9" height="21.4" fill="#82a4fc"/>
<rect x="1981.7" y="2400.1" width="9" height="4.4" fill="#f279a1"/>
<rect x="1992.5" y="2361.2" width="9" height="43.3" fill="#f279a1"/>
<rect x="2003.4" y="2398.4" width="9" height="6.1" fill="#82a4fc"/>
<rect x="2014.3" y="2363.9" width="9" height="40.6" fill="#82a4fc"/>
<rect x="2025.2" y="2398.4" width="9" height="6.1" fill="#f279a1"/>
<rect x="2036.1" y="2403.0" width="9" height="1.5" fill="#82a4fc"/>
<rect x="2047.0" y="2394.0" width="9" height="10.5" fill="#82a4fc"/>
<rect x="2057.8" y="2395.2" width="9" height="9.3" fill="#82a4fc"/>
<rect x="2068.7" y="2342.0" width="9" height="62.5" fill="#f279a1"/>
<rect x="2079.6" y="2398.4" width="9" height="6.1" fill="#82a4fc"/>
<rect x="2090.5" y="2403.0" width="9" height="1.5" fill="#f279a1"/>
<rect x="2101.4" y="2397.2" width="9" height="7.3" fill="#f279a1"/>
<rect x="2112.2" y="2356.4" width="9" height="48.1" fill="#f279a1"/>
<rect x="2123.1" y="2385.0" width="9" height="19.5" fill="#82a4fc"/>
<rect x="2134.0" y="2398.4" width="9" height="6.1" fill="#82a4fc"/>
<rect x="2144.9" y="2326.0" width="9" height="78.5" fill="#82a4fc"/>
<rect x="2155.8" y="2394.0" width="9" height="10.5" fill="#f279a1"/>
<rect x="2166.7" y="2391.1" width="9" height="13.4" fill="#82a4fc"/>
<rect x="2177.5" y="2403.0" width="9" height="1.5" fill="#82a4fc"/>
<rect x="2188.4" y="2378.2" width="9" height="26.3" fill="#f279a1"/>
<rect x="2199.3" y="2401.3" width="9" height="3.2" fill="#82a4fc"/>
<rect x="2210.2" y="2401.3" width="9" height="3.2" fill="#82a4fc"/>
<rect x="2221.1" y="2353.0" width="9" height="51.5" fill="#82a4fc"/>
<rect x="2231.9" y="2403.0" width="9" height="1.5" fill="#82a4fc"/>
<rect x="2242.8" y="2384.3" width="9" height="20.2" fill="#82a4fc"/>
<rect x="2253.7" y="2400.1" width="9" height="4.4" fill="#f279a1"/>
<rect x="2264.6" y="2382.1" width="9" height="22.4" fill="#82a4fc"/>
<rect x="2275.5" y="2400.1" width="9" height="4.4" fill="#82a4fc"/>
<rect x="2286.4" y="2384.3" width="9" height="20.2" fill="#82a4fc"/>
<rect x="2297.2" y="2382.1" width="9" height="22.4" fill="#82a4fc"/>
<rect x="2308.1" y="2377.0" width="9" height="27.5" fill="#f279a1"/>
<rect x="2319.0" y="2400.1" width="9" height="4.4" fill="#f279a1"/>
<rect x="2329.9" y="2392.3" width="9" height="12.2" fill="#f279a1"/>
<rect x="2340.8" y="2398.4" width="9" height="6.1" fill="#82a4fc"/>
<rect x="2351.6" y="2396.4" width="9" height="8.1" fill="#f279a1"/>
<rect x="2362.5" y="2397.2" width="9" height="7.3" fill="#f279a1"/>
<rect x="2373.4" y="2391.8" width="9" height="12.7" fill="#f279a1"/>
<rect x="2384.3" y="2401.3" width="9" height="3.2" fill="#82a4fc"/>
<rect x="2395.2" y="2403.0" width="9" height="1.5" fill="#f279a1"/>
<rect x="2406.1" y="2403.0" width="9" height="1.5" fill="#f279a1"/>
<rect x="2416.9" y="2383.1" width="9" height="21.4" fill="#f279a1"/>
<rect x="2427.8" y="2400.1" width="9" height="4.4" fill="#f279a1"/>
<rect x="2438.7" y="2400.1" width="9" height="4.4" fill="#82a4fc"/>
<rect x="2449.6" y="2401.3" width="9" height="3.2" fill="#f279a1"/>
<rect x="2460.5" y="2380.2" width="9" height="24.3" fill="#f279a1"/>
<rect x="2471.3" y="2398.4" width="9" height="6.1" fill="#82a4fc"/>
<rect x="2482.2" y="2400.1" width="9" height="4.4" fill="#82a4fc"/>
<rect x="2493.1" y="2401.3" width="9" height="3.2" fill="#f279a1"/>
<rect x="2504.0" y="2400.1" width="9" height="4.4" fill="#f279a1"/>
<rect x="2514.9" y="2403.0" width="9" height="1.5" fill="#82a4fc"/>
<rect x="2525.8" y="2353.9" width="9" height="50.6" fill="#82a4fc"/>
<rect x="2536.6" y="2396.0" width="9" height="8.5" fill="#f279a1"/>
<rect x="2547.5" y="2403.0" width="9" height="1.5" fill="#82a4fc"/>
<rect x="2558.4" y="2403.0" width="9" height="1.5" fill="#82a4fc"/>
<rect x="2569.3" y="2393.0" width="9" height="11.5" fill="#82a4fc"/>
<rect x="2580.2" y="2366.1" width="9" height="38.4" fill="#82a4fc"/>
<rect x="2591.1" y="2380.9" width="9" height="23.6" fill="#f279a1"/>
<rect x="2601.9" y="2394.0" width="9" height="10.5" fill="#f279a1"/>
<rect x="2612.8" y="2398.4" width="9" height="6.1" fill="#82a4fc"/>
<rect x="2623.7" y="2403.0" width="9" height="1.5" fill="#f279a1"/>
<rect x="2634.6" y="2401.3" width="9" height="3.2" fill="#82a4fc"/>
<rect x="2645.5" y="2379.0" width="9" height="25.5" fill="#f279a1"/>
<rect x="2656.3" y="2403.0" width="9" height="1.5" fill="#82a4fc"/>
<rect x="2667.2" y="2401.3" width="9" height="3.2" fill="#f279a1"/>
<rect x="2678.1" y="2398.4" width="9" height="6.1" fill="#82a4fc"/>
<rect x="2689.0" y="2396.0" width="9" height="8.5" fill="#f279a1"/>
<rect x="2699.9" y="2398.4" width="9" height="6.1" fill="#f279a1"/>
<rect x="2710.8" y="2393.5" width="9" height="11.0" fill="#f279a1"/>
<rect x="2721.6" y="2377.0" width="9" height="27.5" fill="#f279a1"/>
<rect x="2732.5" y="2400.1" width="9" height="4.4" fill="#f279a1"/>
<rect x="2743.4" y="2376.0" width="9" height="28.5" fill="#f279a1"/>
<rect x="2754.3" y="2396.0" width="9" height="8.5" fill="#82a4fc"/>
<rect x="2765.2" y="2393.5" width="9" height="11.0" fill="#f279a1"/>
<rect x="2776.0" y="2387.0" width="9" height="17.5" fill="#82a4fc"/>
<rect x="2786.9" y="2395.2" width="9" height="9.3" fill="#f279a1"/>
<rect x="2797.8" y="2372.9" width="9" height="31.6" fill="#f279a1"/>
<rect x="2808.7" y="2403.0" width="9" height="1.5" fill="#82a4fc"/>
<rect x="2819.6" y="2403.0" width="9" height="1.5" fill="#82a4fc"/>
<rect x="2830.5" y="2372.9" width="9" height="31.6" fill="#f279a1"/>
<rect x="2841.3" y="2403.0" width="9" height="1.5" fill="#f279a1"/>
<rect x="2852.2" y="2377.0" width="9" height="27.5" fill="#82a4fc"/>
<rect x="2863.1" y="2396.0" width="9" height="8.5" fill="#82a4fc"/>
<rect x="2874.0" y="2401.3" width="9" height="3.2" fill="#82a4fc"/>
<rect x="2884.9" y="2397.2" width="9" height="7.3" fill="#82a4fc"/>
<rect x="2895.7" y="2393.5" width="9" height="11.0" fill="#f279a1"/>
<rect x="2906.6" y="2403.0" width="9" height="1.5" fill="#f279a1"/>
<rect x="2917.5" y="2396.0" width="9" height="8.5" fill="#f279a1"/>
<rect x="2928.4" y="2379.0" width="9" height="25.5" fill="#82a4fc"/>
<rect x="2939.3" y="2402.0" width="9" height="2.5" fill="#f279a1"/>
<rect x="2950.2" y="2401.3" width="9" height="3.2" fill="#82a4fc"/>
<rect x="2961.0" y="2403.0" width="9" height="1.5" fill="#f279a1"/>
<rect x="2971.9" y="2396.0" width="9" height="8.5" fill="#f279a1"/>
<rect x="2982.8" y="2398.4" width="9" height="6.1" fill="#82a4fc"/>
<rect x="2993.7" y="2401.3" width="9" height="3.2" fill="#82a4fc"/>
<rect x="3004.6" y="2392.3" width="9" height="12.2" fill="#f279a1"/>
<rect x="3015.4" y="2401.3" width="9" height="3.2" fill="#f279a1"/>
<rect x="3026.3" y="2401.3" width="9" height="3.2" fill="#f279a1"/>
<rect x="3037.2" y="2397.2" width="9" height="7.3" fill="#82a4fc"/>
<rect x="3048.1" y="2403.0" width="9" height="1.5" fill="#82a4fc"/>
<rect x="3059.0" y="2403.0" width="9" height="1.5" fill="#f279a1"/>
<rect x="3069.9" y="2397.2" width="9" height="7.3" fill="#82a4fc"/>
<rect x="3080.7" y="2401.3" width="9" height="3.2" fill="#f279a1"/>
<rect x="3091.6" y="2403.0" width="9" height="1.5" fill="#82a4fc"/>
<rect x="3102.5" y="2400.1" width="9" height="4.4" fill="#82a4fc"/>
<rect x="3113.4" y="2368.0" width="9" height="36.5" fill="#f279a1"/>
<rect x="3124.3" y="2400.1" width="9" height="4.4" fill="#f279a1"/>
<rect x="3135.2" y="2402.0" width="9" height="2.5" fill="#f279a1"/>
<rect x="3146.0" y="2393.0" width="9" height="11.5" fill="#f279a1"/>
<rect x="3156.9" y="2391.1" width="9" height="13.4" fill="#82a4fc"/>
<rect x="3167.8" y="2395.2" width="9" height="9.3" fill="#82a4fc"/>
<rect x="3178.7" y="2402.0" width="9" height="2.5" fill="#82a4fc"/>
<rect x="3189.6" y="2397.9" width="9" height="6.6" fill="#f279a1"/>
<rect x="3200.4" y="2400.1" width="9" height="4.4" fill="#f279a1"/>
<rect x="3211.3" y="2400.1" width="9" height="4.4" fill="#82a4fc"/>
<rect x="3222.2" y="2395.2" width="9" height="9.3" fill="#82a4fc"/>
<rect x="3233.1" y="2395.2" width="9" height="9.3" fill="#82a4fc"/>
<rect x="3244.0" y="2385.8" width="9" height="18.7" fill="#f279a1"/>
<rect x="3254.9" y="2403.0" width="9" height="1.5" fill="#82a4fc"/>
<rect x="3265.7" y="2401.3" width="9" height="3.2" fill="#f279a1"/>
<rect x="3276.6" y="2403.0" width="9" height="1.5" fill="#f279a1"/>
<rect x="3287.5" y="2401.3" width="9" height="3.2" fill="#f279a1"/>
<rect x="3298.4" y="2401.3" width="9" height="3.2" fill="#82a4fc"/>
<rect x="3309.3" y="2396.4" width="9" height="8.1" fill="#f279a1"/>
<rect x="3320.1" y="2403.0" width="9" height="1.5" fill="#82a4fc"/>
<rect x="3331.0" y="2403.0" width="9" height="1.5" fill="#82a4fc"/>
<rect x="3341.9" y="2394.0" width="9" height="10.5" fill="#82a4fc"/>
<rect x="3352.8" y="2385.8" width="9" height="18.7" fill="#f279a1"/>
<rect x="3363.7" y="2403.0" width="9" height="1.5" fill="#f279a1"/>
<rect x="3374.6" y="2403.0" width="9" height="1.5" fill="#f279a1"/>
<rect x="3385.4" y="2394.0" width="9" height="10.5" fill="#f279a1"/>
<rect x="3396.3" y="2401.3" width="9" height="3.2" fill="#f279a1"/>
<rect x="3407.2" y="2353.0" width="9" height="51.5" fill="#f279a1"/>
<rect x="3418.1" y="2391.1" width="9" height="13.4" fill="#82a4fc"/>
<rect x="3429.0" y="2403.0" width="9" height="1.5" fill="#f279a1"/>
<rect x="3439.8" y="2400.1" width="9" height="4.4" fill="#82a4fc"/>
<rect x="3450.7" y="2390.4" width="9" height="14.1" fill="#82a4fc"/>
<rect x="3461.6" y="2401.3" width="9" height="3.2" fill="#f279a1"/>
<rect x="3472.5" y="2403.0" width="9" height="1.5" fill="#f279a1"/>
<rect x="3483.4" y="2403.0" width="9" height="1.5" fill="#82a4fc"/>
<rect x="3494.3" y="2403.0" width="9" height="1.5" fill="#f279a1"/>
<rect x="3505.1" y="2400.1" width="9" height="4.4" fill="#82a4fc"/>
<rect x="3516.0" y="2397.2" width="9" height="7.3" fill="#82a4fc"/>
<rect x="3526.9" y="2349.1" width="9" height="55.4" fill="#f279a1"/>
<rect x="3537.8" y="2398.9" width="9" height="5.6" fill="#82a4fc"/>
<rect x="3548.7" y="2402.0" width="9" height="2.5" fill="#82a4fc"/>
<rect x="3559.5" y="2403.0" width="9" height="1.5" fill="#f279a1"/>
<rect x="3570.4" y="2403.0" width="9" height="1.5" fill="#82a4fc"/>
<rect x="3581.3" y="2374.8" width="9" height="29.7" fill="#82a4fc"/>
<rect x="3592.2" y="2396.0" width="9" height="8.5" fill="#82a4fc"/>
<rect x="3603.1" y="2397.9" width="9" height="6.6" fill="#82a4fc"/>
<rect x="3614.0" y="2402.0" width="9" height="2.5" fill="#f279a1"/>
<rect x="3624.8" y="2380.9" width="9" height="23.6" fill="#82a4fc"/>
<rect x="3635.7" y="2391.8" width="9" height="12.7" fill="#82a4fc"/>
<rect x="3646.6" y="2389.2" width="9" height="15.3" fill="#82a4fc"/>
<rect x="3657.5" y="2383.8" width="9" height="20.7" fill="#82a4fc"/>
<rect x="3668.4" y="2401.3" width="9" height="3.2" fill="#82a4fc"/>
<rect x="3679.3" y="2402.0" width="9" height="2.5" fill="#f279a1"/>
<rect x="3690.1" y="2401.3" width="9" height="3.2" fill="#82a4fc"/>
<rect x="3701.0" y="2403.0" width="9" height="1.5" fill="#82a4fc"/>
<rect x="3711.9" y="2401.3" width="9" height="3.2" fill="#82a4fc"/>
<rect x="3722.8" y="2400.1" width="9" height="4.4" fill="#f279a1"/>
<rect x="3733.7" y="2397.9" width="9" height="6.6" fill="#82a4fc"/>
<rect x="3744.5" y="2394.0" width="9" height="10.5" fill="#f279a1"/>
<rect x="3755.4" y="2401.3" width="9" height="3.2" fill="#82a4fc"/>
<rect x="3766.3" y="2401.3" width="9" height="3.2" fill="#f279a1"/>
<rect x="3777.2" y="2387.0" width="9" height="17.5" fill="#82a4fc"/>
<rect x="3788.1" y="2396.0" width="9" height="8.5" fill="#82a4fc"/>
<rect x="3799.0" y="2396.4" width="9" height="8.1" fill="#f279a1"/>
<rect x="3809.8" y="2393.0" width="9" height="11.5" fill="#82a4fc"/>
<rect x="3820.7" y="2403.0" width="9" height="1.5" fill="#f279a1"/>
<rect x="3831.6" y="2343.0" width="9" height="61.5" fill="#82a4fc"/>
<rect x="3842.5" y="2399.1" width="9" height="5.4" fill="#f279a1"/>
<rect x="3853.4" y="2399.1" width="9" height="5.4" fill="#f279a1"/>
<rect x="3864.2" y="2395.2" width="9" height="9.3" fill="#f279a1"/>
<rect x="3875.1" y="2382.1" width="9" height="22.4" fill="#f279a1"/>
<rect x="3886.0" y="2387.0" width="9" height="17.5" fill="#82a4fc"/>
<rect x="3896.9" y="2401.3" width="9" height="3.2" fill="#82a4fc"/>
<rect x="3907.8" y="2403.0" width="9" height="1.5" fill="#82a4fc"/>
<rect x="3918.7" y="2370.0" width="9" height="34.5" fill="#82a4fc"/>
<rect x="3929.5" y="2401.3" width="9" height="3.2" fill="#82a4fc"/>
<rect x="3940.4" y="2379.0" width="9" height="25.5" fill="#f279a1"/>
<rect x="3951.3" y="2389.2" width="9" height="15.3" fill="#82a4fc"/>
<rect x="3962.2" y="2395.2" width="9" height="9.3" fill="#f279a1"/>
<rect x="3973.1" y="2365.1" width="9" height="39.4" fill="#f279a1"/>
<rect x="3983.9" y="2387.0" width="9" height="17.5" fill="#f279a1"/>
<rect x="3994.8" y="2397.2" width="9" height="7.3" fill="#f279a1"/>
<rect x="4005.7" y="2403.0" width="9" height="1.5" fill="#f279a1"/>
<rect x="4016.6" y="2335.2" width="9" height="69.3" fill="#f279a1"/>
<rect x="4027.5" y="2341.3" width="9" height="63.2" fill="#82a4fc"/>
<rect x="4038.4" y="2396.0" width="9" height="8.5" fill="#f279a1"/>
<rect x="4049.2" y="2371.2" width="9" height="33.3" fill="#f279a1"/>
<rect x="4060.1" y="2397.2" width="9" height="7.3" fill="#82a4fc"/>
<rect x="4071.0" y="2398.4" width="9" height="6.1" fill="#f279a1"/>
<rect x="4081.9" y="2391.1" width="9" height="13.4" fill="#f279a1"/>
<rect x="4092.8" y="2346.9" width="9" height="57.6" fill="#82a4fc"/>
<rect x="4103.6" y="2395.2" width="9" height="9.3" fill="#f279a1"/>
<rect x="4114.5" y="2391.1" width="9" height="13.4" fill="#f279a1"/>
<rect x="4125.4" y="2385.0" width="9" height="19.5" fill="#f279a1"/>
<rect x="4136.3" y="2358.1" width="9" height="46.4" fill="#f279a1"/>
<rect x="4147.2" y="2389.2" width="9" height="15.3" fill="#f279a1"/>
<rect x="4158.1" y="2383.1" width="9" height="21.4" fill="#82a4fc"/>
<rect x="4168.9" y="2358.1" width="9" height="46.4" fill="#f279a1"/>
<rect x="4179.8" y="2385.0" width="9" height="19.5" fill="#82a4fc"/>
<rect x="4190.7" y="2370.0" width="9" height="34.5" fill="#f279a1"/>
<rect x="4201.6" y="2341.3" width="9" height="63.2" fill="#82a4fc"/>
<rect x="4212.5" y="2374.8" width="9" height="29.7" fill="#82a4fc"/>
<rect x="4223.4" y="2328.0" width="9" height="76.5" fill="#f279a1"/>
<rect x="4234.2" y="2289.1" width="9" height="115.4" fill="#82a4fc"/>
<rect x="4245.1" y="2311.7" width="9" height="92.8" fill="#82a4fc"/>
<rect x="4256.0" y="2238.8" width="9" height="165.7" fill="#f279a1"/>
<polyline points="27.4,2395.8 38.3,2395.8 49.2,2395.9 60.0,2395.9 70.9,2395.9 81.8,2396.0 92.7,2396.1 103.6,2396.1 114.5,2396.1 125.3,2396.3 136.2,2396.4 147.1,2395.9 158.0,2396.0 168.9,2396.1 179.7,2396.1 190.6,2395.9 201.5,2395.8 212.4,2396.0 223.3,2396.1 234.2,2396.2 245.0,2396.3 255.9,2396.3 266.8,2396.2 277.7,2396.3 288.6,2396.1 299.4,2396.1 310.3,2396.1 321.2,2396.0 332.1,2396.0 343.0,2396.1 353.9,2396.1 364.7,2396.0 375.6,2395.9 386.5,2395.5 397.4,2394.7 408.3,2394.6 419.2,2394.6 430.0,2393.8 440.9,2393.6 451.8,2393.4 462.7,2393.0 473.6,2392.2 484.4,2391.6 495.3,2391.6 506.2,2390.3 517.1,2389.3 528.0,2388.3 538.9,2387.5 549.7,2385.7 560.6,2381.9 571.5,2375.9 582.4,2372.7 593.3,2370.8 604.1,2369.7 615.0,2368.4 625.9,2366.7 636.8,2362.3 647.7,2361.2 658.6,2360.0 669.4,2359.0 680.3,2358.5 691.2,2356.9 702.1,2356.3 713.0,2355.7 723.8,2354.9 734.7,2354.6 745.6,2354.1 756.5,2352.7 767.4,2351.9 778.3,2350.5 789.1,2349.8 800.0,2349.3 810.9,2348.6 821.8,2348.3 832.7,2348.0 843.5,2347.3 854.4,2346.4 865.3,2345.8 876.2,2344.8 887.1,2344.1 898.0,2343.9 908.8,2342.9 919.7,2342.7 930.6,2342.6 941.5,2343.0 952.4,2341.8 963.3,2341.0 974.1,2341.0 985.0,2340.6 995.9,2339.2 1006.8,2339.5 1017.7,2339.8 1028.5,2340.2 1039.4,2340.2 1050.3,2341.1 1061.2,2341.4 1072.1,2342.3 1083.0,2341.6 1093.8,2343.2 1104.7,2346.2 1115.6,2352.2 1126.5,2355.1 1137.4,2356.8 1148.2,2357.4 1159.1,2358.6 1170.0,2360.0 1180.9,2362.8 1191.8,2363.5 1202.7,2364.2 1213.5,2364.9 1224.4,2365.1 1235.3,2367.0 1246.2,2366.0 1257.1,2366.2 1267.9,2366.0 1278.8,2366.3 1289.7,2366.8 1300.6,2367.6 1311.5,2368.2 1322.4,2368.8 1333.2,2369.2 1344.1,2369.5 1355.0,2369.6 1365.9,2368.5 1376.8,2368.5 1387.7,2369.0 1398.5,2369.9 1409.4,2370.3 1420.3,2370.7 1431.2,2370.8 1442.1,2370.6 1452.9,2370.0 1463.8,2369.9 1474.7,2370.0 1485.6,2370.2 1496.5,2371.0 1507.4,2371.6 1518.2,2371.7 1529.1,2372.3 1540.0,2373.7 1550.9,2373.2 1561.8,2373.5 1572.6,2373.5 1583.5,2373.2 1594.4,2373.5 1605.3,2373.8 1616.2,2373.9 1627.1,2375.4 1637.9,2375.7 1648.8,2375.6 1659.7,2375.0 1670.6,2374.0 1681.5,2373.5 1692.3,2372.9 1703.2,2372.6 1714.1,2372.8 1725.0,2373.6 1735.9,2374.0 1746.8,2374.4 1757.6,2374.5 1768.5,2374.7 1779.4,2374.9 1790.3,2375.9 1801.2,2376.3 1812.0,2377.3 1822.9,2376.8 1833.8,2376.9 1844.7,2376.9 1855.6,2377.1 1866.5,2377.4 1877.3,2377.5 1888.2,2377.6 1899.1,2377.4 1910.0,2377.3 1920.9,2377.3 1931.8,2377.2 1942.6,2377.2 1953.5,2377.3 1964.4,2377.4 1975.3,2377.8 1986.2,2378.3 1997.0,2379.3 2007.9,2379.8 2018.8,2379.5 2029.7,2379.8 2040.6,2380.4 2051.5,2380.6 2062.3,2381.3 2073.2,2380.2 2084.1,2380.6 2095.0,2381.1 2105.9,2381.5 2116.7,2380.9 2127.6,2381.0 2138.5,2381.2 2149.4,2380.1 2160.3,2380.2 2171.2,2380.0 2182.0,2380.1 2192.9,2380.5 2203.8,2381.2 2214.7,2382.6 2225.6,2382.4 2236.4,2383.6 2247.3,2383.7 2258.2,2383.8 2269.1,2384.4 2280.0,2384.4 2290.9,2384.2 2301.7,2384.0 2312.6,2383.7 2323.5,2383.7 2334.4,2384.1 2345.3,2384.1 2356.1,2384.0 2367.0,2384.7 2377.9,2384.8 2388.8,2385.3 2399.7,2385.4 2410.6,2385.9 2421.4,2385.7 2432.3,2385.9 2443.2,2386.9 2454.1,2388.5 2465.0,2388.6 2475.8,2388.9 2486.7,2389.0 2497.6,2389.4 2508.5,2389.8 2519.4,2390.2 2530.3,2389.2 2541.1,2389.9 2552.0,2390.0 2562.9,2390.8 2573.8,2390.7 2584.7,2390.0 2595.6,2389.7 2606.4,2389.7 2617.3,2390.8 2628.2,2390.9 2639.1,2390.9 2650.0,2390.5 2660.8,2391.4 2671.7,2391.8 2682.6,2391.8 2693.5,2393.2 2704.4,2393.3 2715.3,2393.3 2726.1,2392.8 2737.0,2393.2 2747.9,2392.7 2758.8,2392.6 2769.7,2393.4 2780.5,2393.1 2791.4,2393.3 2802.3,2392.8 2813.2,2393.2 2824.1,2393.2 2835.0,2393.0 2845.8,2393.4 2856.7,2393.4 2867.6,2393.4 2878.5,2393.5 2889.4,2393.5 2900.2,2393.5 2911.1,2393.6 2922.0,2393.7 2932.9,2393.2 2943.8,2393.2 2954.7,2393.1 2965.5,2393.6 2976.4,2393.5 2987.3,2393.4 2998.2,2393.4 3009.1,2393.7 3019.9,2393.7 3030.8,2393.8 3041.7,2393.7 3052.6,2393.7 3063.5,2393.7 3074.4,2394.6 3085.2,2394.7 3096.1,2394.7 3107.0,2394.6 3117.9,2394.1 3128.8,2394.8 3139.7,2395.3 3150.5,2395.2 3161.4,2395.1 3172.3,2394.9 3183.2,2394.9 3194.1,2395.3 3204.9,2395.3 3215.8,2395.2 3226.7,2395.2 3237.6,2395.2 3248.5,2394.9 3259.4,2395.1 3270.2,2395.6 3281.1,2395.6 3292.0,2396.2 3302.9,2396.3 3313.8,2396.3 3324.6,2396.6 3335.5,2396.8 3346.4,2397.2 3357.3,2396.9 3368.2,2396.9 3379.1,2397.5 3389.9,2397.3 3400.8,2397.8 3411.7,2396.9 3422.6,2396.7 3433.5,2396.8 3444.3,2397.0 3455.2,2396.7 3466.1,2396.8 3477.0,2397.3 3487.9,2397.3 3498.8,2397.4 3509.6,2397.3 3520.5,2397.3 3531.4,2396.3 3542.3,2396.3 3553.2,2396.5 3564.0,2396.5 3574.9,2396.6 3585.8,2396.1 3596.7,2396.0 3607.6,2395.9 3618.5,2396.0 3629.3,2395.6 3640.2,2395.3 3651.1,2395.1 3662.0,2395.4 3672.9,2395.5 3683.8,2395.5 3694.6,2395.6 3705.5,2395.9 3716.4,2396.0 3727.3,2395.9 3738.2,2395.9 3749.0,2395.8 3759.9,2395.8 3770.8,2396.0 3781.7,2395.8 3792.6,2396.0 3803.5,2395.9 3814.3,2395.7 3825.2,2395.7 3836.1,2394.5 3847.0,2394.5 3857.9,2394.5 3868.7,2394.4 3879.6,2394.0 3890.5,2393.8 3901.4,2394.1 3912.3,2394.1 3923.2,2393.5 3934.0,2393.6 3944.9,2393.2 3955.8,2393.9 3966.7,2394.0 3977.6,2393.2 3988.4,2393.0 3999.3,2393.1 4010.2,2393.1 4021.1,2391.8 4032.0,2390.5 4042.9,2390.4 4053.7,2389.8 4064.6,2389.8 4075.5,2390.8 4086.4,2390.6 4097.3,2389.5 4108.1,2389.4 4119.0,2389.1 4129.9,2389.3 4140.8,2388.6 4151.7,2388.4 4162.6,2388.0 4173.4,2387.6 4184.3,2387.4 4195.2,2387.0 4206.1,2386.2 4217.0,2385.7 4227.9,2384.2 4238.7,2381.9 4249.6,2380.1 4260.5,2376.9" fill="none" stroke="#2962ff" stroke-width="2.2" stroke-linejoin="round"/>
<text x="4829.0" y="2137.2" font-size="24.5" fill="#000000" text-anchor="start" font-weight="normal" textLength="47.6" lengthAdjust="spacingAndGlyphs">20 K</text>
<text x="4829.0" y="2206.7" font-size="24.5" fill="#000000" text-anchor="start" font-weight="normal" textLength="47.6" lengthAdjust="spacingAndGlyphs">15 K</text>
<text x="4829.0" y="2275.5" font-size="24.5" fill="#000000" text-anchor="start" font-weight="normal" textLength="47.6" lengthAdjust="spacingAndGlyphs">10 K</text>
<text x="4829.0" y="2343.2" font-size="24.5" fill="#000000" text-anchor="start" font-weight="normal" textLength="32.2" lengthAdjust="spacingAndGlyphs">5 K</text>
<path d="M4812,2222 H4884 Q4888,2222 4888,2226 V2252 Q4888,2256 4884,2256 H4812 Z" fill="#e91e63"/>
<text x="4829.0" y="2247.5" font-size="24.5" fill="#fff" text-anchor="start" font-weight="normal" textLength="47.6" lengthAdjust="spacingAndGlyphs">12 K</text>
<path d="M4812,2360 H4906 Q4910,2360 4910,2364 V2390 Q4910,2394 4906,2394 H4812 Z" fill="#2962ff"/>
<text x="4829.0" y="2385.5" font-size="24.5" fill="#fff" text-anchor="start" font-weight="normal" textLength="70.0" lengthAdjust="spacingAndGlyphs">1.98 K</text>
<path d="M4812,773 H4918 Q4922,773 4922,777 V803 Q4922,807 4918,807 H4812 Z" fill="#f06292"/>
<text x="4829.0" y="798.0" font-size="25.5" fill="#fff" text-anchor="start" font-weight="normal" textLength="77.0" lengthAdjust="spacingAndGlyphs">489.71</text>
<text x="125.4" y="2444.0" font-size="25.5" fill="#000000" text-anchor="middle" font-weight="normal" textLength="65.5" lengthAdjust="spacingAndGlyphs">12:15</text>
<text x="245.5" y="2444.0" font-size="25.5" fill="#000000" text-anchor="middle" font-weight="normal" textLength="65.5" lengthAdjust="spacingAndGlyphs">12:30</text>
<text x="408.6" y="2444.0" font-size="25.5" fill="#000000" text-anchor="middle" font-weight="normal" textLength="65.5" lengthAdjust="spacingAndGlyphs">12:45</text>
<text x="571.6" y="2444.0" font-size="25.5" fill="#000000" text-anchor="middle" font-weight="bold" textLength="29.0" lengthAdjust="spacingAndGlyphs">10</text>
<text x="734.4" y="2444.0" font-size="25.5" fill="#000000" text-anchor="middle" font-weight="normal" textLength="65.5" lengthAdjust="spacingAndGlyphs">06:45</text>
<text x="897.7" y="2444.0" font-size="25.5" fill="#000000" text-anchor="middle" font-weight="normal" textLength="65.5" lengthAdjust="spacingAndGlyphs">07:00</text>
<text x="1061.0" y="2444.0" font-size="25.5" fill="#000000" text-anchor="middle" font-weight="normal" textLength="65.5" lengthAdjust="spacingAndGlyphs">07:15</text>
<text x="1224.5" y="2444.0" font-size="25.5" fill="#000000" text-anchor="middle" font-weight="normal" textLength="65.5" lengthAdjust="spacingAndGlyphs">07:30</text>
<text x="1376.6" y="2444.0" font-size="25.5" fill="#000000" text-anchor="middle" font-weight="normal" textLength="65.5" lengthAdjust="spacingAndGlyphs">07:45</text>
<text x="1539.7" y="2444.0" font-size="25.5" fill="#000000" text-anchor="middle" font-weight="normal" textLength="65.5" lengthAdjust="spacingAndGlyphs">08:00</text>
<text x="1692.0" y="2444.0" font-size="25.5" fill="#000000" text-anchor="middle" font-weight="normal" textLength="65.5" lengthAdjust="spacingAndGlyphs">08:15</text>
<text x="1844.4" y="2444.0" font-size="25.5" fill="#000000" text-anchor="middle" font-weight="normal" textLength="65.5" lengthAdjust="spacingAndGlyphs">08:30</text>
<text x="2007.7" y="2444.0" font-size="25.5" fill="#000000" text-anchor="middle" font-weight="normal" textLength="65.5" lengthAdjust="spacingAndGlyphs">08:45</text>
<text x="2149.1" y="2444.0" font-size="25.5" fill="#000000" text-anchor="middle" font-weight="normal" textLength="65.5" lengthAdjust="spacingAndGlyphs">09:00</text>
<text x="2312.4" y="2444.0" font-size="25.5" fill="#000000" text-anchor="middle" font-weight="normal" textLength="65.5" lengthAdjust="spacingAndGlyphs">09:15</text>
<text x="2475.9" y="2444.0" font-size="25.5" fill="#000000" text-anchor="middle" font-weight="normal" textLength="65.5" lengthAdjust="spacingAndGlyphs">09:30</text>
<text x="2628.3" y="2444.0" font-size="25.5" fill="#000000" text-anchor="middle" font-weight="normal" textLength="65.5" lengthAdjust="spacingAndGlyphs">09:45</text>
<text x="2781.2" y="2444.0" font-size="25.5" fill="#000000" text-anchor="middle" font-weight="normal" textLength="65.5" lengthAdjust="spacingAndGlyphs">10:00</text>
<text x="3195.1" y="2444.0" font-size="25.5" fill="#000000" text-anchor="middle" font-weight="normal" textLength="65.5" lengthAdjust="spacingAndGlyphs">11:00</text>
<text x="3412.5" y="2444.0" font-size="25.5" fill="#000000" text-anchor="middle" font-weight="normal" textLength="65.5" lengthAdjust="spacingAndGlyphs">11:30</text>
<text x="3564.8" y="2444.0" font-size="25.5" fill="#000000" text-anchor="middle" font-weight="normal" textLength="65.5" lengthAdjust="spacingAndGlyphs">11:45</text>
<text x="3684.9" y="2444.0" font-size="25.5" fill="#000000" text-anchor="middle" font-weight="normal" textLength="65.5" lengthAdjust="spacingAndGlyphs">12:00</text>
<text x="3804.5" y="2444.0" font-size="25.5" fill="#000000" text-anchor="middle" font-weight="normal" textLength="65.5" lengthAdjust="spacingAndGlyphs">12:15</text>
<text x="3967.6" y="2444.0" font-size="25.5" fill="#000000" text-anchor="middle" font-weight="normal" textLength="65.5" lengthAdjust="spacingAndGlyphs">12:30</text>
<text x="4109.3" y="2444.0" font-size="25.5" fill="#000000" text-anchor="middle" font-weight="normal" textLength="65.5" lengthAdjust="spacingAndGlyphs">12:45</text>
<text x="4271.6" y="2444.0" font-size="25.5" fill="#000000" text-anchor="middle" font-weight="bold" textLength="29.0" lengthAdjust="spacingAndGlyphs">11</text>
<text x="4434.9" y="2444.0" font-size="25.5" fill="#000000" text-anchor="middle" font-weight="normal" textLength="65.5" lengthAdjust="spacingAndGlyphs">06:45</text>
<text x="4598.4" y="2444.0" font-size="25.5" fill="#000000" text-anchor="middle" font-weight="normal" textLength="65.5" lengthAdjust="spacingAndGlyphs">07:00</text>
<text x="4761.4" y="2444.0" font-size="25.5" fill="#000000" text-anchor="middle" font-weight="normal" textLength="65.5" lengthAdjust="spacingAndGlyphs">07:15</text>
<path d="M20.1,2486.1 H35.5 V2505.2 H27.8 V2493.5 H20.1 Z" fill="#131722"/>
<circle cx="42.3" cy="2490.3" r="4.3" fill="#131722"/>
<path d="M49.5,2486.1 H59.1 L50.6,2505.2 H42.5 Z" fill="#131722"/>
<text x="67.0" y="2506.9" font-size="27.5" fill="#000000" text-anchor="start" font-weight="normal" textLength="148.0" lengthAdjust="spacingAndGlyphs">TradingView</text>
<line x1="496" y1="648" x2="4490" y2="648" stroke="#737373" stroke-width="2"/>
<line x1="450" y1="969.3" x2="887" y2="969.3" stroke="#737373" stroke-width="2"/>
<line x1="4261" y1="789.7" x2="4490" y2="789.7" stroke="#737373" stroke-width="2"/>
<line x1="478" y1="645.5" x2="478" y2="967" stroke="#2962ff" stroke-width="3.5"/>
<line x1="461" y1="645.5" x2="496" y2="645.5" stroke="#2962ff" stroke-width="3.5"/>
<line x1="461" y1="967" x2="496" y2="967" stroke="#2962ff" stroke-width="3.5"/>
<polyline points="456.5,947.5 478,966 499.5,947.5" fill="none" stroke="#2962ff" stroke-width="3.5" stroke-linecap="round"/>
<text x="316.6" y="1027.6" font-size="28" fill="#000000" text-anchor="start" font-weight="normal" textLength="325.4" lengthAdjust="spacingAndGlyphs">−15.04 (−3.03%) −1,504</text>
<line x1="4386" y1="647.5" x2="4386" y2="786.5" stroke="#2962ff" stroke-width="3.5"/>
<line x1="4379.5" y1="647.5" x2="4392.5" y2="647.5" stroke="#2962ff" stroke-width="3.5"/>
<line x1="4379.5" y1="786.5" x2="4392.5" y2="786.5" stroke="#2962ff" stroke-width="3.5"/>
<polyline points="4365,766 4386,786 4407,766" fill="none" stroke="#2962ff" stroke-width="3.5" stroke-linecap="round"/>
<text x="4244.7" y="844.7" font-size="28" fill="#000000" text-anchor="start" font-weight="normal" textLength="282.6" lengthAdjust="spacingAndGlyphs">−6.45 (−1.30%) −645</text>
<path d="M637,856.5 L655.2,879 H646.5 V899.5 H627.3 V879 H618.6 Z" fill="#0be140"/>
<path d="M4371.8,553.7 H4390.8 V575.4 H4399.5 L4381,597.4 L4362.3,575.4 H4371.8 Z" fill="#f23645"/>
<line x1="647.2" y1="921.8" x2="820.3" y2="1210" stroke="#555" stroke-width="2"/>
<circle cx="647.2" cy="921.8" r="3.8" fill="#555"/>
<line x1="4252.3" y1="438.8" x2="4369.1" y2="525.3" stroke="#555" stroke-width="2"/>
<circle cx="4369.1" cy="525.3" r="3.8" fill="#555"/>
<filter id="sh" x="-10%" y="-30%" width="120%" height="160%"><feDropShadow dx="0" dy="2" stdDeviation="2.5" flood-color="#000" flood-opacity="0.12"/></filter>
<rect x="651" y="1211" width="342" height="57.5" rx="9" fill="#fff" stroke="#e6e6e6" stroke-width="1.5" filter="url(#sh)"/>
<text x="667.4" y="1252.5" font-size="33" fill="#000000" text-anchor="start" font-weight="normal" textLength="308.2" lengthAdjust="spacingAndGlyphs">Entered at 1 min ORB</text>
<rect x="3798" y="410" width="452" height="56.5" rx="9" fill="#fff" stroke="#e6e6e6" stroke-width="1.5" filter="url(#sh)"/>
<text x="3814.9" y="450.2" font-size="33" fill="#000000" text-anchor="start" font-weight="normal" textLength="418.4" lengthAdjust="spacingAndGlyphs">Exit with a 1.3% loss at close</text>
<path d="M553.4,2029.5 L570.9,2019 L588.4,2029.5 V2053 Q588.4,2056.3 585,2056.3 H556.8 Q553.4,2056.3 553.4,2053 Z" fill="#fff" stroke="#089981" stroke-width="2.8" stroke-linejoin="round"/>
<path d="M565.2,2030 H577 V2033 H568.2 V2037 H576.5 V2040 H568.2 V2044 H577 V2047 H565.2 Z" fill="#089981"/>
<circle cx="4261" cy="2039" r="19.6" fill="#fff" stroke="#9c27b0" stroke-width="2.8"/>
<path d="M4267,2028.3 L4253,2039.3 H4261 L4255.3,2048.7 L4269.8,2038 H4261.8 Z" fill="#9c27b0" stroke="#9c27b0" stroke-width="1.6" stroke-linejoin="round"/>
</svg></body></html>
